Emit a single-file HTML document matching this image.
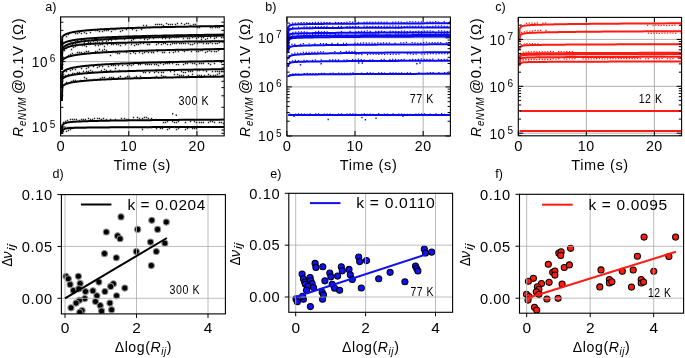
<!DOCTYPE html>
<html><head><meta charset="utf-8"><style>html,body{margin:0;padding:0;background:#fff;overflow:hidden}svg{display:block;will-change:transform}</style></head><body>
<svg width="685" height="358" viewBox="0 0 685 358" font-family='"Liberation Sans", sans-serif'>
<rect width="685" height="358" fill="#fff"/>
<clipPath id="clipa"><rect x="60.6" y="16.9" width="163.6" height="119"/></clipPath>
<path d="M128.77 16.9V135.9M196.93 16.9V135.9M60.6 127H224.2M60.6 61.6H224.2" stroke="#b0b0b0" stroke-width="1" fill="none"/>
<g clip-path="url(#clipa)">
<path d="M61.9 46 L62.3 36.9 L62.37 36.81 L62.44 36.72 L62.51 36.63 L62.58 36.54 L62.66 36.45 L62.74 36.36 L62.82 36.27 L62.91 36.18 L63 36.08 L63.09 35.99 L63.19 35.9 L63.29 35.81 L63.39 35.72 L63.5 35.63 L63.62 35.54 L63.73 35.45 L63.85 35.36 L63.98 35.27 L64.11 35.18 L64.25 35.09 L64.39 34.99 L64.53 34.9 L64.69 34.81 L64.85 34.72 L65.01 34.63 L65.18 34.54 L65.36 34.45 L65.54 34.36 L65.74 34.27 L65.93 34.18 L66.14 34.09 L66.36 34 L66.58 33.9 L66.81 33.81 L67.05 33.72 L67.3 33.63 L67.56 33.54 L67.83 33.45 L68.11 33.36 L68.4 33.27 L68.71 33.18 L69.02 33.09 L69.35 33 L69.69 32.9 L70.04 32.81 L70.4 32.72 L70.78 32.63 L71.18 32.54 L71.59 32.45 L72.01 32.36 L72.46 32.27 L72.92 32.18 L73.39 32.09 L73.89 32 L74.41 31.91 L74.94 31.81 L75.5 31.72 L76.07 31.63 L76.67 31.54 L77.3 31.45 L77.94 31.36 L78.62 31.27 L79.32 31.18 L80.04 31.09 L80.79 31 L81.58 30.91 L82.39 30.82 L83.24 30.72 L84.11 30.63 L85.03 30.54 L85.97 30.45 L86.96 30.36 L87.98 30.27 L89.04 30.18 L90.14 30.09 L91.29 30 L92.48 29.91 L93.71 29.82 L95 29.73 L96.33 29.63 L97.71 29.54 L99.15 29.45 L100.65 29.36 L102.2 29.27 L103.81 29.18 L105.49 29.09 L107.23 29 L109.04 28.91 L110.91 28.82 L112.87 28.73 L114.89 28.63 L117 28.54 L119.18 28.45 L121.45 28.36 L123.81 28.27 L126.26 28.18 L128.81 28.09 L131.45 28 L134.2 27.91 L137.05 27.82 L140.02 27.73 L143.1 27.64 L146.3 27.54 L149.62 27.45 L153.07 27.36 L156.65 27.27 L160.38 27.18 L164.25 27.09 L168.27 27 L172.44 26.91 L176.78 26.82 L181.28 26.73 L185.96 26.64 L190.82 26.55 L195.87 26.45 L201.11 26.36 L206.56 26.27 L212.22 26.18 L218.09 26.09 L224.2 26" stroke="#000" stroke-width="2" fill="none" stroke-linejoin="round"/>
<path d="M61.9 52 L62.3 44.51 L62.37 44.43 L62.44 44.35 L62.51 44.26 L62.58 44.18 L62.66 44.1 L62.74 44.02 L62.82 43.93 L62.91 43.85 L63 43.77 L63.09 43.69 L63.19 43.6 L63.29 43.52 L63.39 43.44 L63.5 43.36 L63.62 43.27 L63.73 43.19 L63.85 43.11 L63.98 43.02 L64.11 42.94 L64.25 42.86 L64.39 42.78 L64.53 42.69 L64.69 42.61 L64.85 42.53 L65.01 42.45 L65.18 42.36 L65.36 42.28 L65.54 42.2 L65.74 42.12 L65.93 42.03 L66.14 41.95 L66.36 41.87 L66.58 41.79 L66.81 41.7 L67.05 41.62 L67.3 41.54 L67.56 41.46 L67.83 41.37 L68.11 41.29 L68.4 41.21 L68.71 41.12 L69.02 41.04 L69.35 40.96 L69.69 40.88 L70.04 40.79 L70.4 40.71 L70.78 40.63 L71.18 40.55 L71.59 40.46 L72.01 40.38 L72.46 40.3 L72.92 40.22 L73.39 40.13 L73.89 40.05 L74.41 39.97 L74.94 39.89 L75.5 39.8 L76.07 39.72 L76.67 39.64 L77.3 39.56 L77.94 39.47 L78.62 39.39 L79.32 39.31 L80.04 39.23 L80.79 39.14 L81.58 39.06 L82.39 38.98 L83.24 38.89 L84.11 38.81 L85.03 38.73 L85.97 38.65 L86.96 38.56 L87.98 38.48 L89.04 38.4 L90.14 38.32 L91.29 38.23 L92.48 38.15 L93.71 38.07 L95 37.99 L96.33 37.9 L97.71 37.82 L99.15 37.74 L100.65 37.66 L102.2 37.57 L103.81 37.49 L105.49 37.41 L107.23 37.33 L109.04 37.24 L110.91 37.16 L112.87 37.08 L114.89 37 L117 36.91 L119.18 36.83 L121.45 36.75 L123.81 36.66 L126.26 36.58 L128.81 36.5 L131.45 36.42 L134.2 36.33 L137.05 36.25 L140.02 36.17 L143.1 36.09 L146.3 36 L149.62 35.92 L153.07 35.84 L156.65 35.76 L160.38 35.67 L164.25 35.59 L168.27 35.51 L172.44 35.43 L176.78 35.34 L181.28 35.26 L185.96 35.18 L190.82 35.1 L195.87 35.01 L201.11 34.93 L206.56 34.85 L212.22 34.77 L218.09 34.68 L224.2 34.6" stroke="#000" stroke-width="2" fill="none" stroke-linejoin="round"/>
<path d="M61.9 56 L62.3 48.68 L62.37 48.57 L62.44 48.46 L62.51 48.36 L62.58 48.25 L62.66 48.14 L62.74 48.03 L62.82 47.92 L62.91 47.81 L63 47.7 L63.09 47.59 L63.19 47.48 L63.29 47.37 L63.39 47.27 L63.5 47.16 L63.62 47.05 L63.73 46.94 L63.85 46.83 L63.98 46.72 L64.11 46.61 L64.25 46.5 L64.39 46.39 L64.53 46.28 L64.69 46.18 L64.85 46.07 L65.01 45.96 L65.18 45.85 L65.36 45.74 L65.54 45.63 L65.74 45.52 L65.93 45.41 L66.14 45.3 L66.36 45.19 L66.58 45.09 L66.81 44.98 L67.05 44.87 L67.3 44.76 L67.56 44.65 L67.83 44.54 L68.11 44.43 L68.4 44.32 L68.71 44.21 L69.02 44.1 L69.35 43.99 L69.69 43.89 L70.04 43.78 L70.4 43.67 L70.78 43.56 L71.18 43.45 L71.59 43.34 L72.01 43.23 L72.46 43.12 L72.92 43.01 L73.39 42.9 L73.89 42.8 L74.41 42.69 L74.94 42.58 L75.5 42.47 L76.07 42.36 L76.67 42.25 L77.3 42.14 L77.94 42.03 L78.62 41.92 L79.32 41.81 L80.04 41.71 L80.79 41.6 L81.58 41.49 L82.39 41.38 L83.24 41.27 L84.11 41.16 L85.03 41.05 L85.97 40.94 L86.96 40.83 L87.98 40.72 L89.04 40.62 L90.14 40.51 L91.29 40.4 L92.48 40.29 L93.71 40.18 L95 40.07 L96.33 39.96 L97.71 39.85 L99.15 39.74 L100.65 39.63 L102.2 39.52 L103.81 39.42 L105.49 39.31 L107.23 39.2 L109.04 39.09 L110.91 38.98 L112.87 38.87 L114.89 38.76 L117 38.65 L119.18 38.54 L121.45 38.43 L123.81 38.33 L126.26 38.22 L128.81 38.11 L131.45 38 L134.2 37.89 L137.05 37.78 L140.02 37.67 L143.1 37.56 L146.3 37.45 L149.62 37.34 L153.07 37.24 L156.65 37.13 L160.38 37.02 L164.25 36.91 L168.27 36.8 L172.44 36.69 L176.78 36.58 L181.28 36.47 L185.96 36.36 L190.82 36.25 L195.87 36.15 L201.11 36.04 L206.56 35.93 L212.22 35.82 L218.09 35.71 L224.2 35.6" stroke="#000" stroke-width="2" fill="none" stroke-linejoin="round"/>
<path d="M61.9 62 L62.3 50.67 L62.37 50.59 L62.44 50.51 L62.51 50.42 L62.58 50.34 L62.66 50.26 L62.74 50.17 L62.82 50.08 L62.91 50 L63 49.91 L63.09 49.82 L63.19 49.73 L63.29 49.64 L63.39 49.55 L63.5 49.46 L63.62 49.37 L63.73 49.28 L63.85 49.19 L63.98 49.09 L64.11 49 L64.25 48.9 L64.39 48.81 L64.53 48.71 L64.69 48.62 L64.85 48.52 L65.01 48.42 L65.18 48.32 L65.36 48.22 L65.54 48.12 L65.74 48.02 L65.93 47.92 L66.14 47.82 L66.36 47.72 L66.58 47.62 L66.81 47.52 L67.05 47.42 L67.3 47.32 L67.56 47.22 L67.83 47.11 L68.11 47.01 L68.4 46.91 L68.71 46.81 L69.02 46.71 L69.35 46.61 L69.69 46.51 L70.04 46.41 L70.4 46.31 L70.78 46.21 L71.18 46.12 L71.59 46.02 L72.01 45.92 L72.46 45.83 L72.92 45.74 L73.39 45.64 L73.89 45.55 L74.41 45.46 L74.94 45.37 L75.5 45.28 L76.07 45.2 L76.67 45.11 L77.3 45.03 L77.94 44.94 L78.62 44.86 L79.32 44.78 L80.04 44.7 L80.79 44.63 L81.58 44.55 L82.39 44.47 L83.24 44.4 L84.11 44.33 L85.03 44.26 L85.97 44.19 L86.96 44.12 L87.98 44.05 L89.04 43.98 L90.14 43.92 L91.29 43.85 L92.48 43.79 L93.71 43.72 L95 43.66 L96.33 43.59 L97.71 43.53 L99.15 43.47 L100.65 43.41 L102.2 43.35 L103.81 43.29 L105.49 43.23 L107.23 43.17 L109.04 43.11 L110.91 43.05 L112.87 42.99 L114.89 42.93 L117 42.87 L119.18 42.81 L121.45 42.75 L123.81 42.69 L126.26 42.63 L128.81 42.57 L131.45 42.51 L134.2 42.45 L137.05 42.39 L140.02 42.33 L143.1 42.27 L146.3 42.21 L149.62 42.15 L153.07 42.09 L156.65 42.03 L160.38 41.97 L164.25 41.91 L168.27 41.85 L172.44 41.79 L176.78 41.74 L181.28 41.68 L185.96 41.62 L190.82 41.56 L195.87 41.5 L201.11 41.44 L206.56 41.38 L212.22 41.32 L218.09 41.26 L224.2 41.2" stroke="#000" stroke-width="2" fill="none" stroke-linejoin="round"/>
<path d="M61.9 70 L62.3 60.5 L62.37 60.4 L62.44 60.31 L62.51 60.21 L62.58 60.11 L62.66 60.02 L62.74 59.92 L62.82 59.83 L62.91 59.73 L63 59.63 L63.09 59.54 L63.19 59.44 L63.29 59.35 L63.39 59.25 L63.5 59.16 L63.62 59.06 L63.73 58.96 L63.85 58.87 L63.98 58.77 L64.11 58.68 L64.25 58.58 L64.39 58.49 L64.53 58.39 L64.69 58.29 L64.85 58.2 L65.01 58.1 L65.18 58.01 L65.36 57.91 L65.54 57.81 L65.74 57.72 L65.93 57.62 L66.14 57.53 L66.36 57.43 L66.58 57.34 L66.81 57.24 L67.05 57.14 L67.3 57.05 L67.56 56.95 L67.83 56.86 L68.11 56.76 L68.4 56.66 L68.71 56.57 L69.02 56.47 L69.35 56.38 L69.69 56.28 L70.04 56.19 L70.4 56.09 L70.78 55.99 L71.18 55.9 L71.59 55.8 L72.01 55.71 L72.46 55.61 L72.92 55.52 L73.39 55.42 L73.89 55.32 L74.41 55.23 L74.94 55.13 L75.5 55.04 L76.07 54.94 L76.67 54.84 L77.3 54.75 L77.94 54.65 L78.62 54.56 L79.32 54.46 L80.04 54.37 L80.79 54.27 L81.58 54.17 L82.39 54.08 L83.24 53.98 L84.11 53.89 L85.03 53.79 L85.97 53.69 L86.96 53.6 L87.98 53.5 L89.04 53.41 L90.14 53.31 L91.29 53.22 L92.48 53.12 L93.71 53.02 L95 52.93 L96.33 52.83 L97.71 52.74 L99.15 52.64 L100.65 52.54 L102.2 52.45 L103.81 52.35 L105.49 52.26 L107.23 52.16 L109.04 52.07 L110.91 51.97 L112.87 51.87 L114.89 51.78 L117 51.68 L119.18 51.59 L121.45 51.49 L123.81 51.4 L126.26 51.3 L128.81 51.2 L131.45 51.11 L134.2 51.01 L137.05 50.92 L140.02 50.82 L143.1 50.72 L146.3 50.63 L149.62 50.53 L153.07 50.44 L156.65 50.34 L160.38 50.25 L164.25 50.15 L168.27 50.05 L172.44 49.96 L176.78 49.86 L181.28 49.77 L185.96 49.67 L190.82 49.57 L195.87 49.48 L201.11 49.38 L206.56 49.29 L212.22 49.19 L218.09 49.1 L224.2 49" stroke="#000" stroke-width="2" fill="none" stroke-linejoin="round"/>
<path d="M61.9 80 L62.3 72.89 L62.37 72.79 L62.44 72.7 L62.51 72.6 L62.58 72.5 L62.66 72.4 L62.74 72.3 L62.82 72.2 L62.91 72.1 L63 72 L63.09 71.9 L63.19 71.8 L63.29 71.7 L63.39 71.61 L63.5 71.51 L63.62 71.41 L63.73 71.31 L63.85 71.21 L63.98 71.11 L64.11 71.01 L64.25 70.91 L64.39 70.81 L64.53 70.71 L64.69 70.61 L64.85 70.51 L65.01 70.42 L65.18 70.32 L65.36 70.22 L65.54 70.12 L65.74 70.02 L65.93 69.92 L66.14 69.82 L66.36 69.72 L66.58 69.62 L66.81 69.52 L67.05 69.42 L67.3 69.33 L67.56 69.23 L67.83 69.13 L68.11 69.03 L68.4 68.93 L68.71 68.83 L69.02 68.73 L69.35 68.63 L69.69 68.53 L70.04 68.43 L70.4 68.33 L70.78 68.24 L71.18 68.14 L71.59 68.04 L72.01 67.94 L72.46 67.84 L72.92 67.74 L73.39 67.64 L73.89 67.54 L74.41 67.44 L74.94 67.34 L75.5 67.24 L76.07 67.15 L76.67 67.05 L77.3 66.95 L77.94 66.85 L78.62 66.75 L79.32 66.65 L80.04 66.55 L80.79 66.45 L81.58 66.35 L82.39 66.25 L83.24 66.15 L84.11 66.05 L85.03 65.96 L85.97 65.86 L86.96 65.76 L87.98 65.66 L89.04 65.56 L90.14 65.46 L91.29 65.36 L92.48 65.26 L93.71 65.16 L95 65.06 L96.33 64.96 L97.71 64.87 L99.15 64.77 L100.65 64.67 L102.2 64.57 L103.81 64.47 L105.49 64.37 L107.23 64.27 L109.04 64.17 L110.91 64.07 L112.87 63.97 L114.89 63.87 L117 63.78 L119.18 63.68 L121.45 63.58 L123.81 63.48 L126.26 63.38 L128.81 63.28 L131.45 63.18 L134.2 63.08 L137.05 62.98 L140.02 62.88 L143.1 62.78 L146.3 62.68 L149.62 62.59 L153.07 62.49 L156.65 62.39 L160.38 62.29 L164.25 62.19 L168.27 62.09 L172.44 61.99 L176.78 61.89 L181.28 61.79 L185.96 61.69 L190.82 61.59 L195.87 61.5 L201.11 61.4 L206.56 61.3 L212.22 61.2 L218.09 61.1 L224.2 61" stroke="#000" stroke-width="2" fill="none" stroke-linejoin="round"/>
<path d="M61.9 88 L62.3 79.11 L62.37 79.03 L62.44 78.95 L62.51 78.86 L62.58 78.78 L62.66 78.7 L62.74 78.62 L62.82 78.53 L62.91 78.45 L63 78.37 L63.09 78.29 L63.19 78.2 L63.29 78.12 L63.39 78.04 L63.5 77.96 L63.62 77.87 L63.73 77.79 L63.85 77.71 L63.98 77.62 L64.11 77.54 L64.25 77.46 L64.39 77.38 L64.53 77.29 L64.69 77.21 L64.85 77.13 L65.01 77.05 L65.18 76.96 L65.36 76.88 L65.54 76.8 L65.74 76.72 L65.93 76.63 L66.14 76.55 L66.36 76.47 L66.58 76.39 L66.81 76.3 L67.05 76.22 L67.3 76.14 L67.56 76.06 L67.83 75.97 L68.11 75.89 L68.4 75.81 L68.71 75.72 L69.02 75.64 L69.35 75.56 L69.69 75.48 L70.04 75.39 L70.4 75.31 L70.78 75.23 L71.18 75.15 L71.59 75.06 L72.01 74.98 L72.46 74.9 L72.92 74.82 L73.39 74.73 L73.89 74.65 L74.41 74.57 L74.94 74.49 L75.5 74.4 L76.07 74.32 L76.67 74.24 L77.3 74.16 L77.94 74.07 L78.62 73.99 L79.32 73.91 L80.04 73.83 L80.79 73.74 L81.58 73.66 L82.39 73.58 L83.24 73.49 L84.11 73.41 L85.03 73.33 L85.97 73.25 L86.96 73.16 L87.98 73.08 L89.04 73 L90.14 72.92 L91.29 72.83 L92.48 72.75 L93.71 72.67 L95 72.59 L96.33 72.5 L97.71 72.42 L99.15 72.34 L100.65 72.26 L102.2 72.17 L103.81 72.09 L105.49 72.01 L107.23 71.93 L109.04 71.84 L110.91 71.76 L112.87 71.68 L114.89 71.6 L117 71.51 L119.18 71.43 L121.45 71.35 L123.81 71.26 L126.26 71.18 L128.81 71.1 L131.45 71.02 L134.2 70.93 L137.05 70.85 L140.02 70.77 L143.1 70.69 L146.3 70.6 L149.62 70.52 L153.07 70.44 L156.65 70.36 L160.38 70.27 L164.25 70.19 L168.27 70.11 L172.44 70.03 L176.78 69.94 L181.28 69.86 L185.96 69.78 L190.82 69.7 L195.87 69.61 L201.11 69.53 L206.56 69.45 L212.22 69.37 L218.09 69.28 L224.2 69.2" stroke="#000" stroke-width="2" fill="none" stroke-linejoin="round"/>
<path d="M61.9 101 L62.3 86.51 L62.37 86.43 L62.44 86.35 L62.51 86.26 L62.58 86.18 L62.66 86.1 L62.74 86.02 L62.82 85.93 L62.91 85.85 L63 85.77 L63.09 85.69 L63.19 85.6 L63.29 85.52 L63.39 85.44 L63.5 85.36 L63.62 85.27 L63.73 85.19 L63.85 85.11 L63.98 85.02 L64.11 84.94 L64.25 84.86 L64.39 84.78 L64.53 84.69 L64.69 84.61 L64.85 84.53 L65.01 84.45 L65.18 84.36 L65.36 84.28 L65.54 84.2 L65.74 84.12 L65.93 84.03 L66.14 83.95 L66.36 83.87 L66.58 83.79 L66.81 83.7 L67.05 83.62 L67.3 83.54 L67.56 83.46 L67.83 83.37 L68.11 83.29 L68.4 83.21 L68.71 83.12 L69.02 83.04 L69.35 82.96 L69.69 82.88 L70.04 82.79 L70.4 82.71 L70.78 82.63 L71.18 82.55 L71.59 82.46 L72.01 82.38 L72.46 82.3 L72.92 82.22 L73.39 82.13 L73.89 82.05 L74.41 81.97 L74.94 81.89 L75.5 81.8 L76.07 81.72 L76.67 81.64 L77.3 81.56 L77.94 81.47 L78.62 81.39 L79.32 81.31 L80.04 81.23 L80.79 81.14 L81.58 81.06 L82.39 80.98 L83.24 80.89 L84.11 80.81 L85.03 80.73 L85.97 80.65 L86.96 80.56 L87.98 80.48 L89.04 80.4 L90.14 80.32 L91.29 80.23 L92.48 80.15 L93.71 80.07 L95 79.99 L96.33 79.9 L97.71 79.82 L99.15 79.74 L100.65 79.66 L102.2 79.57 L103.81 79.49 L105.49 79.41 L107.23 79.33 L109.04 79.24 L110.91 79.16 L112.87 79.08 L114.89 79 L117 78.91 L119.18 78.83 L121.45 78.75 L123.81 78.66 L126.26 78.58 L128.81 78.5 L131.45 78.42 L134.2 78.33 L137.05 78.25 L140.02 78.17 L143.1 78.09 L146.3 78 L149.62 77.92 L153.07 77.84 L156.65 77.76 L160.38 77.67 L164.25 77.59 L168.27 77.51 L172.44 77.43 L176.78 77.34 L181.28 77.26 L185.96 77.18 L190.82 77.1 L195.87 77.01 L201.11 76.93 L206.56 76.85 L212.22 76.77 L218.09 76.68 L224.2 76.6" stroke="#000" stroke-width="2" fill="none" stroke-linejoin="round"/>
<path d="M61.9 131 L62.3 125.3 L62.37 125.21 L62.44 125.13 L62.51 125.04 L62.58 124.95 L62.66 124.86 L62.74 124.77 L62.82 124.68 L62.91 124.59 L63 124.5 L63.09 124.42 L63.19 124.33 L63.29 124.24 L63.39 124.16 L63.5 124.07 L63.62 123.98 L63.73 123.9 L63.85 123.82 L63.98 123.74 L64.11 123.66 L64.25 123.58 L64.39 123.5 L64.53 123.42 L64.69 123.35 L64.85 123.27 L65.01 123.2 L65.18 123.13 L65.36 123.06 L65.54 123 L65.74 122.93 L65.93 122.87 L66.14 122.81 L66.36 122.75 L66.58 122.69 L66.81 122.63 L67.05 122.58 L67.3 122.53 L67.56 122.48 L67.83 122.43 L68.11 122.38 L68.4 122.33 L68.71 122.29 L69.02 122.24 L69.35 122.2 L69.69 122.16 L70.04 122.12 L70.4 122.08 L70.78 122.04 L71.18 122 L71.59 121.96 L72.01 121.93 L72.46 121.89 L72.92 121.86 L73.39 121.82 L73.89 121.79 L74.41 121.75 L74.94 121.72 L75.5 121.68 L76.07 121.65 L76.67 121.62 L77.3 121.58 L77.94 121.55 L78.62 121.52 L79.32 121.48 L80.04 121.45 L80.79 121.42 L81.58 121.38 L82.39 121.35 L83.24 121.32 L84.11 121.28 L85.03 121.25 L85.97 121.22 L86.96 121.19 L87.98 121.15 L89.04 121.12 L90.14 121.09 L91.29 121.05 L92.48 121.02 L93.71 120.99 L95 120.95 L96.33 120.92 L97.71 120.89 L99.15 120.86 L100.65 120.82 L102.2 120.79 L103.81 120.76 L105.49 120.72 L107.23 120.69 L109.04 120.66 L110.91 120.62 L112.87 120.59 L114.89 120.56 L117 120.53 L119.18 120.49 L121.45 120.46 L123.81 120.43 L126.26 120.39 L128.81 120.36 L131.45 120.33 L134.2 120.29 L137.05 120.26 L140.02 120.23 L143.1 120.19 L146.3 120.16 L149.62 120.13 L153.07 120.1 L156.65 120.06 L160.38 120.03 L164.25 120 L168.27 119.96 L172.44 119.93 L176.78 119.9 L181.28 119.86 L185.96 119.83 L190.82 119.8 L195.87 119.77 L201.11 119.73 L206.56 119.7 L212.22 119.67 L218.09 119.63 L224.2 119.6" stroke="#000" stroke-width="2" fill="none" stroke-linejoin="round"/>
<path d="M61.9 134 L62.3 130.42 L62.37 130.35 L62.44 130.28 L62.51 130.21 L62.58 130.14 L62.66 130.07 L62.74 130 L62.82 129.93 L62.91 129.86 L63 129.79 L63.09 129.72 L63.19 129.65 L63.29 129.58 L63.39 129.51 L63.5 129.44 L63.62 129.38 L63.73 129.31 L63.85 129.25 L63.98 129.18 L64.11 129.12 L64.25 129.06 L64.39 129 L64.53 128.94 L64.69 128.88 L64.85 128.83 L65.01 128.78 L65.18 128.72 L65.36 128.67 L65.54 128.62 L65.74 128.58 L65.93 128.53 L66.14 128.49 L66.36 128.45 L66.58 128.41 L66.81 128.37 L67.05 128.33 L67.3 128.3 L67.56 128.27 L67.83 128.24 L68.11 128.21 L68.4 128.18 L68.71 128.15 L69.02 128.12 L69.35 128.1 L69.69 128.08 L70.04 128.05 L70.4 128.03 L70.78 128.01 L71.18 127.99 L71.59 127.97 L72.01 127.96 L72.46 127.94 L72.92 127.92 L73.39 127.9 L73.89 127.89 L74.41 127.87 L74.94 127.86 L75.5 127.84 L76.07 127.82 L76.67 127.81 L77.3 127.79 L77.94 127.78 L78.62 127.76 L79.32 127.75 L80.04 127.73 L80.79 127.72 L81.58 127.7 L82.39 127.69 L83.24 127.67 L84.11 127.66 L85.03 127.64 L85.97 127.63 L86.96 127.61 L87.98 127.6 L89.04 127.58 L90.14 127.57 L91.29 127.55 L92.48 127.54 L93.71 127.52 L95 127.51 L96.33 127.49 L97.71 127.48 L99.15 127.46 L100.65 127.45 L102.2 127.44 L103.81 127.42 L105.49 127.41 L107.23 127.39 L109.04 127.38 L110.91 127.36 L112.87 127.35 L114.89 127.33 L117 127.32 L119.18 127.3 L121.45 127.29 L123.81 127.27 L126.26 127.26 L128.81 127.24 L131.45 127.23 L134.2 127.21 L137.05 127.2 L140.02 127.18 L143.1 127.17 L146.3 127.15 L149.62 127.14 L153.07 127.12 L156.65 127.11 L160.38 127.09 L164.25 127.08 L168.27 127.06 L172.44 127.05 L176.78 127.03 L181.28 127.02 L185.96 127 L190.82 126.99 L195.87 126.97 L201.11 126.96 L206.56 126.94 L212.22 126.93 L218.09 126.91 L224.2 126.9" stroke="#000" stroke-width="2" fill="none" stroke-linejoin="round"/>
<path d="M65.8 35.8h1.4v1.4h-1.4zM67.8 33.8h1.4v1.4h-1.4zM74.8 32.8h1.4v1.4h-1.4zM76.8 32.8h1.4v1.4h-1.4zM78.8 31.8h1.4v1.4h-1.4zM80.8 32.8h1.4v1.4h-1.4zM83.8 31.8h1.4v1.4h-1.4zM85.8 32.8h1.4v1.4h-1.4zM89.8 31.8h1.4v1.4h-1.4zM94.8 29.8h1.4v1.4h-1.4zM96.8 29.8h1.4v1.4h-1.4zM98.8 30.8h1.4v1.4h-1.4zM101.8 30.8h1.4v1.4h-1.4zM103.8 29.8h1.4v1.4h-1.4zM105.8 29.8h1.4v1.4h-1.4zM107.8 29.8h1.4v1.4h-1.4zM110.8 30.8h1.4v1.4h-1.4zM112.8 28.8h1.4v1.4h-1.4zM114.8 28.8h1.4v1.4h-1.4zM119.8 30.8h1.4v1.4h-1.4zM121.8 29.8h1.4v1.4h-1.4zM125.8 28.8h1.4v1.4h-1.4zM128.8 27.8h1.4v1.4h-1.4zM131.8 28.8h1.4v1.4h-1.4zM133.8 27.8h1.4v1.4h-1.4zM135.8 29.8h1.4v1.4h-1.4zM137.8 26.8h1.4v1.4h-1.4zM140.8 28.8h1.4v1.4h-1.4zM142.8 24.8h1.4v1.4h-1.4zM145.8 24.8h1.4v1.4h-1.4zM154.8 23.8h1.4v1.4h-1.4zM156.8 23.8h1.4v1.4h-1.4zM158.8 23.8h1.4v1.4h-1.4zM160.8 23.8h1.4v1.4h-1.4zM162.8 24.8h1.4v1.4h-1.4zM165.8 22.8h1.4v1.4h-1.4zM167.8 23.8h1.4v1.4h-1.4zM169.8 23.8h1.4v1.4h-1.4zM171.8 23.8h1.4v1.4h-1.4zM174.8 23.8h1.4v1.4h-1.4zM176.8 22.8h1.4v1.4h-1.4zM180.8 22.8h1.4v1.4h-1.4zM183.8 23.8h1.4v1.4h-1.4zM185.8 22.8h1.4v1.4h-1.4zM187.8 22.8h1.4v1.4h-1.4zM189.8 24.8h1.4v1.4h-1.4zM192.8 23.8h1.4v1.4h-1.4zM194.8 23.8h1.4v1.4h-1.4zM196.8 26.8h1.4v1.4h-1.4zM198.8 26.8h1.4v1.4h-1.4zM209.8 26.8h1.4v1.4h-1.4zM211.8 26.8h1.4v1.4h-1.4zM214.8 26.8h1.4v1.4h-1.4zM216.8 26.8h1.4v1.4h-1.4zM218.8 26.8h1.4v1.4h-1.4zM69.8 40.8h1.4v1.4h-1.4zM71.8 41.8h1.4v1.4h-1.4zM74.8 40.8h1.4v1.4h-1.4zM76.8 39.8h1.4v1.4h-1.4zM80.8 39.8h1.4v1.4h-1.4zM83.8 38.8h1.4v1.4h-1.4zM85.8 39.8h1.4v1.4h-1.4zM87.8 40.8h1.4v1.4h-1.4zM89.8 39.8h1.4v1.4h-1.4zM92.8 37.8h1.4v1.4h-1.4zM98.8 38.8h1.4v1.4h-1.4zM101.8 38.8h1.4v1.4h-1.4zM103.8 36.8h1.4v1.4h-1.4zM105.8 38.8h1.4v1.4h-1.4zM107.8 37.8h1.4v1.4h-1.4zM112.8 37.8h1.4v1.4h-1.4zM114.8 38.8h1.4v1.4h-1.4zM116.8 36.8h1.4v1.4h-1.4zM121.8 36.8h1.4v1.4h-1.4zM123.8 36.8h1.4v1.4h-1.4zM125.8 36.8h1.4v1.4h-1.4zM128.8 37.8h1.4v1.4h-1.4zM130.8 37.8h1.4v1.4h-1.4zM132.8 35.8h1.4v1.4h-1.4zM139.8 37.8h1.4v1.4h-1.4zM143.8 37.8h1.4v1.4h-1.4zM146.8 34.8h1.4v1.4h-1.4zM150.8 36.8h1.4v1.4h-1.4zM152.8 35.8h1.4v1.4h-1.4zM155.8 35.8h1.4v1.4h-1.4zM157.8 36.8h1.4v1.4h-1.4zM159.8 35.8h1.4v1.4h-1.4zM161.8 36.8h1.4v1.4h-1.4zM164.8 36.8h1.4v1.4h-1.4zM166.8 35.8h1.4v1.4h-1.4zM168.8 36.8h1.4v1.4h-1.4zM170.8 35.8h1.4v1.4h-1.4zM173.8 36.8h1.4v1.4h-1.4zM175.8 36.8h1.4v1.4h-1.4zM177.8 35.8h1.4v1.4h-1.4zM184.8 35.8h1.4v1.4h-1.4zM186.8 35.8h1.4v1.4h-1.4zM188.8 35.8h1.4v1.4h-1.4zM191.8 35.8h1.4v1.4h-1.4zM193.8 35.8h1.4v1.4h-1.4zM195.8 35.8h1.4v1.4h-1.4zM197.8 35.8h1.4v1.4h-1.4zM200.8 36.8h1.4v1.4h-1.4zM202.8 35.8h1.4v1.4h-1.4zM204.8 34.8h1.4v1.4h-1.4zM206.8 34.8h1.4v1.4h-1.4zM209.8 35.8h1.4v1.4h-1.4zM211.8 34.8h1.4v1.4h-1.4zM213.8 35.8h1.4v1.4h-1.4zM215.8 36.8h1.4v1.4h-1.4zM218.8 34.8h1.4v1.4h-1.4zM65.8 46.8h1.4v1.4h-1.4zM69.8 42.8h1.4v1.4h-1.4zM71.8 43.8h1.4v1.4h-1.4zM74.8 42.8h1.4v1.4h-1.4zM76.8 43.8h1.4v1.4h-1.4zM78.8 43.8h1.4v1.4h-1.4zM83.8 41.8h1.4v1.4h-1.4zM87.8 41.8h1.4v1.4h-1.4zM89.8 41.8h1.4v1.4h-1.4zM92.8 40.8h1.4v1.4h-1.4zM94.8 41.8h1.4v1.4h-1.4zM96.8 40.8h1.4v1.4h-1.4zM98.8 41.8h1.4v1.4h-1.4zM101.8 40.8h1.4v1.4h-1.4zM105.8 40.8h1.4v1.4h-1.4zM107.8 39.8h1.4v1.4h-1.4zM110.8 39.8h1.4v1.4h-1.4zM114.8 38.8h1.4v1.4h-1.4zM123.8 38.8h1.4v1.4h-1.4zM128.8 37.8h1.4v1.4h-1.4zM130.8 39.8h1.4v1.4h-1.4zM132.8 38.8h1.4v1.4h-1.4zM134.8 37.8h1.4v1.4h-1.4zM143.8 38.8h1.4v1.4h-1.4zM146.8 38.8h1.4v1.4h-1.4zM148.8 37.8h1.4v1.4h-1.4zM152.8 37.8h1.4v1.4h-1.4zM159.8 36.8h1.4v1.4h-1.4zM161.8 37.8h1.4v1.4h-1.4zM164.8 37.8h1.4v1.4h-1.4zM166.8 36.8h1.4v1.4h-1.4zM168.8 37.8h1.4v1.4h-1.4zM170.8 36.8h1.4v1.4h-1.4zM173.8 35.8h1.4v1.4h-1.4zM175.8 36.8h1.4v1.4h-1.4zM177.8 36.8h1.4v1.4h-1.4zM182.8 37.8h1.4v1.4h-1.4zM186.8 37.8h1.4v1.4h-1.4zM188.8 37.8h1.4v1.4h-1.4zM191.8 36.8h1.4v1.4h-1.4zM195.8 37.8h1.4v1.4h-1.4zM197.8 36.8h1.4v1.4h-1.4zM200.8 38.8h1.4v1.4h-1.4zM202.8 36.8h1.4v1.4h-1.4zM204.8 38.8h1.4v1.4h-1.4zM206.8 37.8h1.4v1.4h-1.4zM209.8 36.8h1.4v1.4h-1.4zM213.8 37.8h1.4v1.4h-1.4zM220.8 36.8h1.4v1.4h-1.4zM222.8 36.8h1.4v1.4h-1.4zM63.8 49.8h1.4v1.4h-1.4zM65.8 47.8h1.4v1.4h-1.4zM70.8 48.8h1.4v1.4h-1.4zM72.8 46.8h1.4v1.4h-1.4zM74.8 45.8h1.4v1.4h-1.4zM76.8 44.8h1.4v1.4h-1.4zM81.8 44.8h1.4v1.4h-1.4zM83.8 44.8h1.4v1.4h-1.4zM85.8 45.8h1.4v1.4h-1.4zM88.8 43.8h1.4v1.4h-1.4zM94.8 44.8h1.4v1.4h-1.4zM97.8 44.8h1.4v1.4h-1.4zM99.8 43.8h1.4v1.4h-1.4zM101.8 43.8h1.4v1.4h-1.4zM103.8 45.8h1.4v1.4h-1.4zM106.8 43.8h1.4v1.4h-1.4zM110.8 43.8h1.4v1.4h-1.4zM112.8 43.8h1.4v1.4h-1.4zM115.8 43.8h1.4v1.4h-1.4zM117.8 43.8h1.4v1.4h-1.4zM119.8 44.8h1.4v1.4h-1.4zM121.8 42.8h1.4v1.4h-1.4zM124.8 43.8h1.4v1.4h-1.4zM130.8 43.8h1.4v1.4h-1.4zM133.8 44.8h1.4v1.4h-1.4zM135.8 43.8h1.4v1.4h-1.4zM137.8 43.8h1.4v1.4h-1.4zM139.8 42.8h1.4v1.4h-1.4zM142.8 42.8h1.4v1.4h-1.4zM146.8 43.8h1.4v1.4h-1.4zM148.8 43.8h1.4v1.4h-1.4zM153.8 41.8h1.4v1.4h-1.4zM155.8 43.8h1.4v1.4h-1.4zM157.8 42.8h1.4v1.4h-1.4zM160.8 43.8h1.4v1.4h-1.4zM162.8 42.8h1.4v1.4h-1.4zM164.8 42.8h1.4v1.4h-1.4zM166.8 43.8h1.4v1.4h-1.4zM169.8 43.8h1.4v1.4h-1.4zM171.8 42.8h1.4v1.4h-1.4zM173.8 42.8h1.4v1.4h-1.4zM175.8 42.8h1.4v1.4h-1.4zM178.8 42.8h1.4v1.4h-1.4zM180.8 42.8h1.4v1.4h-1.4zM182.8 42.8h1.4v1.4h-1.4zM184.8 42.8h1.4v1.4h-1.4zM187.8 42.8h1.4v1.4h-1.4zM189.8 43.8h1.4v1.4h-1.4zM191.8 43.8h1.4v1.4h-1.4zM193.8 42.8h1.4v1.4h-1.4zM196.8 42.8h1.4v1.4h-1.4zM198.8 41.8h1.4v1.4h-1.4zM200.8 41.8h1.4v1.4h-1.4zM202.8 42.8h1.4v1.4h-1.4zM205.8 42.8h1.4v1.4h-1.4zM207.8 42.8h1.4v1.4h-1.4zM209.8 41.8h1.4v1.4h-1.4zM211.8 42.8h1.4v1.4h-1.4zM214.8 42.8h1.4v1.4h-1.4zM216.8 42.8h1.4v1.4h-1.4zM218.8 41.8h1.4v1.4h-1.4zM223.8 41.8h1.4v1.4h-1.4zM62.8 56.8h1.4v1.4h-1.4zM67.8 54.8h1.4v1.4h-1.4zM69.8 53.8h1.4v1.4h-1.4zM71.8 52.8h1.4v1.4h-1.4zM74.8 53.8h1.4v1.4h-1.4zM76.8 51.8h1.4v1.4h-1.4zM78.8 51.8h1.4v1.4h-1.4zM80.8 51.8h1.4v1.4h-1.4zM83.8 51.8h1.4v1.4h-1.4zM85.8 50.8h1.4v1.4h-1.4zM87.8 50.8h1.4v1.4h-1.4zM94.8 50.8h1.4v1.4h-1.4zM96.8 50.8h1.4v1.4h-1.4zM98.8 48.8h1.4v1.4h-1.4zM101.8 49.8h1.4v1.4h-1.4zM103.8 48.8h1.4v1.4h-1.4zM105.8 49.8h1.4v1.4h-1.4zM109.8 54.8h1.4v1.4h-1.4zM111.8 51.8h1.4v1.4h-1.4zM114.8 51.8h1.4v1.4h-1.4zM116.8 52.8h1.4v1.4h-1.4zM118.8 52.8h1.4v1.4h-1.4zM125.8 51.8h1.4v1.4h-1.4zM127.8 50.8h1.4v1.4h-1.4zM129.8 52.8h1.4v1.4h-1.4zM132.8 51.8h1.4v1.4h-1.4zM134.8 52.8h1.4v1.4h-1.4zM138.8 51.8h1.4v1.4h-1.4zM141.8 52.8h1.4v1.4h-1.4zM143.8 51.8h1.4v1.4h-1.4zM145.8 50.8h1.4v1.4h-1.4zM147.8 51.8h1.4v1.4h-1.4zM150.8 51.8h1.4v1.4h-1.4zM152.8 51.8h1.4v1.4h-1.4zM156.8 50.8h1.4v1.4h-1.4zM161.8 51.8h1.4v1.4h-1.4zM163.8 51.8h1.4v1.4h-1.4zM168.8 51.8h1.4v1.4h-1.4zM170.8 49.8h1.4v1.4h-1.4zM172.8 51.8h1.4v1.4h-1.4zM174.8 50.8h1.4v1.4h-1.4zM177.8 50.8h1.4v1.4h-1.4zM181.8 49.8h1.4v1.4h-1.4zM183.8 50.8h1.4v1.4h-1.4zM186.8 49.8h1.4v1.4h-1.4zM190.8 50.8h1.4v1.4h-1.4zM195.8 50.8h1.4v1.4h-1.4zM197.8 50.8h1.4v1.4h-1.4zM199.8 49.8h1.4v1.4h-1.4zM201.8 49.8h1.4v1.4h-1.4zM204.8 51.8h1.4v1.4h-1.4zM206.8 50.8h1.4v1.4h-1.4zM208.8 49.8h1.4v1.4h-1.4zM210.8 50.8h1.4v1.4h-1.4zM213.8 50.8h1.4v1.4h-1.4zM215.8 50.8h1.4v1.4h-1.4zM217.8 49.8h1.4v1.4h-1.4zM62.8 73.8h1.4v1.4h-1.4zM65.8 70.8h1.4v1.4h-1.4zM69.8 69.8h1.4v1.4h-1.4zM71.8 68.8h1.4v1.4h-1.4zM74.8 68.8h1.4v1.4h-1.4zM80.8 67.8h1.4v1.4h-1.4zM85.8 67.8h1.4v1.4h-1.4zM87.8 66.8h1.4v1.4h-1.4zM92.8 65.8h1.4v1.4h-1.4zM96.8 66.8h1.4v1.4h-1.4zM98.8 65.8h1.4v1.4h-1.4zM101.8 65.8h1.4v1.4h-1.4zM107.8 65.8h1.4v1.4h-1.4zM110.8 64.8h1.4v1.4h-1.4zM112.8 64.8h1.4v1.4h-1.4zM114.8 64.8h1.4v1.4h-1.4zM117.8 64.8h1.4v1.4h-1.4zM121.8 64.8h1.4v1.4h-1.4zM123.8 62.8h1.4v1.4h-1.4zM126.8 64.8h1.4v1.4h-1.4zM128.8 63.8h1.4v1.4h-1.4zM130.8 64.8h1.4v1.4h-1.4zM132.8 63.8h1.4v1.4h-1.4zM137.8 63.8h1.4v1.4h-1.4zM139.8 63.8h1.4v1.4h-1.4zM141.8 62.8h1.4v1.4h-1.4zM144.8 63.8h1.4v1.4h-1.4zM146.8 63.8h1.4v1.4h-1.4zM148.8 63.8h1.4v1.4h-1.4zM150.8 63.8h1.4v1.4h-1.4zM153.8 63.8h1.4v1.4h-1.4zM155.8 63.8h1.4v1.4h-1.4zM157.8 64.8h1.4v1.4h-1.4zM159.8 62.8h1.4v1.4h-1.4zM162.8 63.8h1.4v1.4h-1.4zM164.8 62.8h1.4v1.4h-1.4zM166.8 62.8h1.4v1.4h-1.4zM168.8 62.8h1.4v1.4h-1.4zM171.8 62.8h1.4v1.4h-1.4zM173.8 61.8h1.4v1.4h-1.4zM175.8 63.8h1.4v1.4h-1.4zM177.8 63.8h1.4v1.4h-1.4zM182.8 63.8h1.4v1.4h-1.4zM184.8 62.8h1.4v1.4h-1.4zM186.8 62.8h1.4v1.4h-1.4zM189.8 61.8h1.4v1.4h-1.4zM191.8 62.8h1.4v1.4h-1.4zM193.8 62.8h1.4v1.4h-1.4zM195.8 63.8h1.4v1.4h-1.4zM198.8 62.8h1.4v1.4h-1.4zM200.8 62.8h1.4v1.4h-1.4zM202.8 62.8h1.4v1.4h-1.4zM207.8 62.8h1.4v1.4h-1.4zM209.8 63.8h1.4v1.4h-1.4zM211.8 60.8h1.4v1.4h-1.4zM213.8 62.8h1.4v1.4h-1.4zM218.8 60.8h1.4v1.4h-1.4zM220.8 61.8h1.4v1.4h-1.4zM62.8 75.8h1.4v1.4h-1.4zM64.8 74.8h1.4v1.4h-1.4zM67.8 73.8h1.4v1.4h-1.4zM71.8 72.8h1.4v1.4h-1.4zM73.8 72.8h1.4v1.4h-1.4zM76.8 71.8h1.4v1.4h-1.4zM78.8 71.8h1.4v1.4h-1.4zM82.8 70.8h1.4v1.4h-1.4zM85.8 70.8h1.4v1.4h-1.4zM87.8 70.8h1.4v1.4h-1.4zM89.8 69.8h1.4v1.4h-1.4zM91.8 70.8h1.4v1.4h-1.4zM94.8 71.8h1.4v1.4h-1.4zM100.8 69.8h1.4v1.4h-1.4zM103.8 68.8h1.4v1.4h-1.4zM105.8 69.8h1.4v1.4h-1.4zM109.8 69.8h1.4v1.4h-1.4zM114.8 67.8h1.4v1.4h-1.4zM118.8 69.8h1.4v1.4h-1.4zM142.8 71.8h1.4v1.4h-1.4zM144.8 71.8h1.4v1.4h-1.4zM148.8 71.8h1.4v1.4h-1.4zM153.8 71.8h1.4v1.4h-1.4zM155.8 70.8h1.4v1.4h-1.4zM157.8 71.8h1.4v1.4h-1.4zM160.8 71.8h1.4v1.4h-1.4zM162.8 71.8h1.4v1.4h-1.4zM166.8 69.8h1.4v1.4h-1.4zM169.8 70.8h1.4v1.4h-1.4zM173.8 70.8h1.4v1.4h-1.4zM180.8 70.8h1.4v1.4h-1.4zM182.8 71.8h1.4v1.4h-1.4zM184.8 71.8h1.4v1.4h-1.4zM187.8 70.8h1.4v1.4h-1.4zM189.8 70.8h1.4v1.4h-1.4zM191.8 70.8h1.4v1.4h-1.4zM196.8 69.8h1.4v1.4h-1.4zM198.8 69.8h1.4v1.4h-1.4zM202.8 69.8h1.4v1.4h-1.4zM205.8 70.8h1.4v1.4h-1.4zM211.8 70.8h1.4v1.4h-1.4zM214.8 70.8h1.4v1.4h-1.4zM216.8 70.8h1.4v1.4h-1.4zM218.8 70.8h1.4v1.4h-1.4zM220.8 70.8h1.4v1.4h-1.4zM223.8 70.8h1.4v1.4h-1.4zM63.8 83.8h1.4v1.4h-1.4zM65.8 81.8h1.4v1.4h-1.4zM67.8 82.8h1.4v1.4h-1.4zM70.8 80.8h1.4v1.4h-1.4zM72.8 79.8h1.4v1.4h-1.4zM74.8 79.8h1.4v1.4h-1.4zM79.8 79.8h1.4v1.4h-1.4zM83.8 76.8h1.4v1.4h-1.4zM85.8 77.8h1.4v1.4h-1.4zM92.8 78.8h1.4v1.4h-1.4zM94.8 78.8h1.4v1.4h-1.4zM99.8 77.8h1.4v1.4h-1.4zM101.8 76.8h1.4v1.4h-1.4zM103.8 76.8h1.4v1.4h-1.4zM108.8 76.8h1.4v1.4h-1.4zM110.8 76.8h1.4v1.4h-1.4zM112.8 76.8h1.4v1.4h-1.4zM115.8 77.8h1.4v1.4h-1.4zM117.8 76.8h1.4v1.4h-1.4zM119.8 75.8h1.4v1.4h-1.4zM124.8 76.8h1.4v1.4h-1.4zM126.8 75.8h1.4v1.4h-1.4zM128.8 75.8h1.4v1.4h-1.4zM133.8 76.8h1.4v1.4h-1.4zM135.8 75.8h1.4v1.4h-1.4zM139.8 75.8h1.4v1.4h-1.4zM155.8 75.8h1.4v1.4h-1.4zM160.8 74.8h1.4v1.4h-1.4zM162.8 75.8h1.4v1.4h-1.4zM164.8 75.8h1.4v1.4h-1.4zM173.8 73.8h1.4v1.4h-1.4zM176.8 73.8h1.4v1.4h-1.4zM178.8 74.8h1.4v1.4h-1.4zM180.8 74.8h1.4v1.4h-1.4zM182.8 74.8h1.4v1.4h-1.4zM185.8 75.8h1.4v1.4h-1.4zM187.8 74.8h1.4v1.4h-1.4zM191.8 73.8h1.4v1.4h-1.4zM196.8 74.8h1.4v1.4h-1.4zM198.8 74.8h1.4v1.4h-1.4zM200.8 74.8h1.4v1.4h-1.4zM203.8 74.8h1.4v1.4h-1.4zM207.8 73.8h1.4v1.4h-1.4zM209.8 74.8h1.4v1.4h-1.4zM212.8 74.8h1.4v1.4h-1.4zM214.8 74.8h1.4v1.4h-1.4zM216.8 73.8h1.4v1.4h-1.4zM218.8 72.8h1.4v1.4h-1.4zM221.8 74.8h1.4v1.4h-1.4zM62.8 121.8h1.4v1.4h-1.4zM64.8 120.8h1.4v1.4h-1.4zM66.8 119.8h1.4v1.4h-1.4zM69.8 118.8h1.4v1.4h-1.4zM71.8 118.8h1.4v1.4h-1.4zM73.8 118.8h1.4v1.4h-1.4zM75.8 118.8h1.4v1.4h-1.4zM78.8 119.8h1.4v1.4h-1.4zM80.8 118.8h1.4v1.4h-1.4zM82.8 118.8h1.4v1.4h-1.4zM84.8 118.8h1.4v1.4h-1.4zM87.8 117.8h1.4v1.4h-1.4zM89.8 118.8h1.4v1.4h-1.4zM91.8 118.8h1.4v1.4h-1.4zM93.8 117.8h1.4v1.4h-1.4zM96.8 117.8h1.4v1.4h-1.4zM98.8 117.8h1.4v1.4h-1.4zM100.8 118.8h1.4v1.4h-1.4zM102.8 117.8h1.4v1.4h-1.4zM105.8 118.8h1.4v1.4h-1.4zM109.8 118.8h1.4v1.4h-1.4zM114.8 118.8h1.4v1.4h-1.4zM120.8 117.8h1.4v1.4h-1.4zM123.8 117.8h1.4v1.4h-1.4zM125.8 118.8h1.4v1.4h-1.4zM127.8 118.8h1.4v1.4h-1.4zM132.8 116.8h1.4v1.4h-1.4zM136.8 116.8h1.4v1.4h-1.4zM138.8 117.8h1.4v1.4h-1.4zM141.8 117.8h1.4v1.4h-1.4zM143.8 116.8h1.4v1.4h-1.4zM145.8 116.8h1.4v1.4h-1.4zM147.8 117.8h1.4v1.4h-1.4zM150.8 117.8h1.4v1.4h-1.4zM154.8 118.8h1.4v1.4h-1.4zM162.8 121.8h1.4v1.4h-1.4zM164.8 121.8h1.4v1.4h-1.4zM166.8 120.8h1.4v1.4h-1.4zM171.8 120.8h1.4v1.4h-1.4zM173.8 121.8h1.4v1.4h-1.4zM175.8 121.8h1.4v1.4h-1.4zM177.8 120.8h1.4v1.4h-1.4zM184.8 121.8h1.4v1.4h-1.4zM189.8 120.8h1.4v1.4h-1.4zM193.8 120.8h1.4v1.4h-1.4zM195.8 121.8h1.4v1.4h-1.4zM198.8 121.8h1.4v1.4h-1.4zM200.8 121.8h1.4v1.4h-1.4zM202.8 121.8h1.4v1.4h-1.4zM207.8 121.8h1.4v1.4h-1.4zM209.8 120.8h1.4v1.4h-1.4zM211.8 120.8h1.4v1.4h-1.4zM213.8 121.8h1.4v1.4h-1.4zM218.8 121.8h1.4v1.4h-1.4zM220.8 121.8h1.4v1.4h-1.4zM222.8 122.8h1.4v1.4h-1.4zM62.8 130.8h1.4v1.4h-1.4zM65.8 130.8h1.4v1.4h-1.4zM67.8 129.8h1.4v1.4h-1.4zM69.8 128.8h1.4v1.4h-1.4zM141.8 128.8h1.4v1.4h-1.4zM146.8 126.8h1.4v1.4h-1.4zM150.8 126.8h1.4v1.4h-1.4zM155.8 127.8h1.4v1.4h-1.4zM159.8 127.8h1.4v1.4h-1.4zM161.8 127.8h1.4v1.4h-1.4zM166.8 128.8h1.4v1.4h-1.4zM168.8 127.8h1.4v1.4h-1.4zM173.8 126.8h1.4v1.4h-1.4zM175.8 128.8h1.4v1.4h-1.4zM177.8 127.8h1.4v1.4h-1.4zM184.8 128.8h1.4v1.4h-1.4zM186.8 127.8h1.4v1.4h-1.4zM188.8 126.8h1.4v1.4h-1.4zM191.8 127.8h1.4v1.4h-1.4zM193.8 127.8h1.4v1.4h-1.4zM195.8 127.8h1.4v1.4h-1.4zM172 113.1h1.4v1.4h-1.4zM175.6 114.5h1.4v1.4h-1.4z" fill="#222"/>
</g>
<path d="M60.6 16.9v4.9M60.6 135.9v-4.9M128.77 16.9v4.9M128.77 135.9v-4.9M196.93 16.9v4.9M196.93 135.9v-4.9M60.6 133.34h2.8M224.2 133.34h-2.8M60.6 129.99h2.8M224.2 129.99h-2.8M60.6 127h4.9M224.2 127h-4.9M60.6 107.31h2.8M224.2 107.31h-2.8M60.6 95.8h2.8M224.2 95.8h-2.8M60.6 87.63h2.8M224.2 87.63h-2.8M60.6 81.29h2.8M224.2 81.29h-2.8M60.6 76.11h2.8M224.2 76.11h-2.8M60.6 71.73h2.8M224.2 71.73h-2.8M60.6 67.94h2.8M224.2 67.94h-2.8M60.6 64.59h2.8M224.2 64.59h-2.8M60.6 61.6h4.9M224.2 61.6h-4.9M60.6 41.91h2.8M224.2 41.91h-2.8M60.6 30.4h2.8M224.2 30.4h-2.8M60.6 22.23h2.8M224.2 22.23h-2.8" stroke="#000" stroke-width="1" fill="none"/>
<rect x="60.6" y="16.9" width="163.6" height="119" fill="none" stroke="#000" stroke-width="1.1"/>
<text x="60.6" y="151.4" font-size="14.4" text-anchor="middle" textLength="8.2" lengthAdjust="spacingAndGlyphs" fill="#000">0</text>
<text x="128.77" y="151.4" font-size="14.4" text-anchor="middle" textLength="17" lengthAdjust="spacingAndGlyphs" letter-spacing="0.6" fill="#000">10</text>
<text x="196.93" y="151.4" font-size="14.4" text-anchor="middle" textLength="17" lengthAdjust="spacingAndGlyphs" letter-spacing="0.6" fill="#000">20</text>
<text x="48" y="132.3" font-size="14.4" text-anchor="end" textLength="16.2" lengthAdjust="spacingAndGlyphs" letter-spacing="0.6" fill="#000">10</text>
<text x="49.7" y="127.5" font-size="10.4" textLength="5.6" lengthAdjust="spacingAndGlyphs" fill="#000">5</text>
<text x="48" y="66.9" font-size="14.4" text-anchor="end" textLength="16.2" lengthAdjust="spacingAndGlyphs" letter-spacing="0.6" fill="#000">10</text>
<text x="49.7" y="62.1" font-size="10.4" textLength="5.6" lengthAdjust="spacingAndGlyphs" fill="#000">6</text>
<text x="45.3" y="10.8" font-size="12.5" fill="#000">a)</text>
<text x="178.4" y="104.5" font-size="11.9" textLength="30.8" lengthAdjust="spacingAndGlyphs" letter-spacing="0.6" fill="#000">300 K</text>
<clipPath id="clipb"><rect x="286.9" y="17" width="163.5" height="118.9"/></clipPath>
<path d="M355.02 17V135.9M423.15 17V135.9M286.9 86.9H450.4M286.9 37.8H450.4" stroke="#b0b0b0" stroke-width="1" fill="none"/>
<g clip-path="url(#clipb)">
<path d="M288.2 44 L288.13 27.65 L288.18 27.55 L288.23 27.44 L288.29 27.33 L288.34 27.23 L288.4 27.12 L288.47 27.02 L288.53 26.91 L288.6 26.81 L288.67 26.71 L288.74 26.6 L288.82 26.5 L288.9 26.4 L288.98 26.31 L289.07 26.21 L289.16 26.12 L289.25 26.02 L289.35 25.93 L289.45 25.85 L289.56 25.76 L289.67 25.68 L289.79 25.6 L289.91 25.52 L290.03 25.45 L290.16 25.38 L290.3 25.31 L290.44 25.24 L290.59 25.18 L290.74 25.12 L290.9 25.07 L291.07 25.02 L291.24 24.97 L291.42 24.92 L291.61 24.88 L291.81 24.83 L292.01 24.8 L292.22 24.76 L292.44 24.73 L292.67 24.69 L292.91 24.66 L293.16 24.64 L293.43 24.61 L293.7 24.58 L293.98 24.56 L294.27 24.54 L294.58 24.52 L294.9 24.5 L295.23 24.48 L295.58 24.46 L295.94 24.44 L296.32 24.42 L296.71 24.4 L297.12 24.39 L297.54 24.37 L297.99 24.35 L298.45 24.34 L298.93 24.32 L299.43 24.3 L299.95 24.29 L300.49 24.27 L301.06 24.26 L301.65 24.24 L302.26 24.22 L302.9 24.21 L303.57 24.19 L304.26 24.18 L304.98 24.16 L305.74 24.14 L306.52 24.13 L307.34 24.11 L308.19 24.1 L309.07 24.08 L310 24.06 L310.96 24.05 L311.96 24.03 L313 24.02 L314.09 24 L315.22 23.99 L316.4 23.97 L317.63 23.95 L318.9 23.94 L320.24 23.92 L321.62 23.91 L323.07 23.89 L324.57 23.87 L326.14 23.86 L327.77 23.84 L329.48 23.83 L331.25 23.81 L333.09 23.79 L335.02 23.78 L337.02 23.76 L339.1 23.75 L341.28 23.73 L343.54 23.71 L345.9 23.7 L348.35 23.68 L350.91 23.67 L353.57 23.65 L356.35 23.63 L359.24 23.62 L362.25 23.6 L365.38 23.59 L368.65 23.57 L372.05 23.55 L375.6 23.54 L379.29 23.52 L383.13 23.51 L387.14 23.49 L391.31 23.48 L395.65 23.46 L400.18 23.44 L404.89 23.43 L409.8 23.41 L414.92 23.4 L420.25 23.38 L425.79 23.36 L431.58 23.35 L437.6 23.33 L443.87 23.32 L450.4 23.3" stroke="#0a0af5" stroke-width="2" fill="none" stroke-linejoin="round"/>
<path d="M288.2 46 L288.13 31.64 L288.18 31.54 L288.23 31.43 L288.29 31.33 L288.34 31.22 L288.4 31.12 L288.47 31.02 L288.53 30.91 L288.6 30.81 L288.67 30.71 L288.74 30.61 L288.82 30.51 L288.9 30.41 L288.98 30.32 L289.07 30.22 L289.16 30.13 L289.25 30.04 L289.35 29.95 L289.45 29.87 L289.56 29.78 L289.67 29.7 L289.79 29.62 L289.91 29.55 L290.03 29.48 L290.16 29.41 L290.3 29.34 L290.44 29.28 L290.59 29.22 L290.74 29.16 L290.9 29.11 L291.07 29.06 L291.24 29.01 L291.42 28.96 L291.61 28.92 L291.81 28.88 L292.01 28.85 L292.22 28.81 L292.44 28.78 L292.67 28.75 L292.91 28.72 L293.16 28.69 L293.43 28.67 L293.7 28.65 L293.98 28.62 L294.27 28.6 L294.58 28.58 L294.9 28.57 L295.23 28.55 L295.58 28.53 L295.94 28.51 L296.32 28.5 L296.71 28.48 L297.12 28.47 L297.54 28.45 L297.99 28.44 L298.45 28.42 L298.93 28.41 L299.43 28.39 L299.95 28.38 L300.49 28.36 L301.06 28.35 L301.65 28.34 L302.26 28.32 L302.9 28.31 L303.57 28.29 L304.26 28.28 L304.98 28.26 L305.74 28.25 L306.52 28.24 L307.34 28.22 L308.19 28.21 L309.07 28.19 L310 28.18 L310.96 28.17 L311.96 28.15 L313 28.14 L314.09 28.12 L315.22 28.11 L316.4 28.09 L317.63 28.08 L318.9 28.07 L320.24 28.05 L321.62 28.04 L323.07 28.02 L324.57 28.01 L326.14 28 L327.77 27.98 L329.48 27.97 L331.25 27.95 L333.09 27.94 L335.02 27.92 L337.02 27.91 L339.1 27.9 L341.28 27.88 L343.54 27.87 L345.9 27.85 L348.35 27.84 L350.91 27.83 L353.57 27.81 L356.35 27.8 L359.24 27.78 L362.25 27.77 L365.38 27.75 L368.65 27.74 L372.05 27.73 L375.6 27.71 L379.29 27.7 L383.13 27.68 L387.14 27.67 L391.31 27.66 L395.65 27.64 L400.18 27.63 L404.89 27.61 L409.8 27.6 L414.92 27.58 L420.25 27.57 L425.79 27.56 L431.58 27.54 L437.6 27.53 L443.87 27.51 L450.4 27.5" stroke="#0a0af5" stroke-width="2" fill="none" stroke-linejoin="round"/>
<path d="M288.2 48 L288.13 36.75 L288.18 36.65 L288.23 36.54 L288.29 36.43 L288.34 36.33 L288.4 36.22 L288.47 36.12 L288.53 36.01 L288.6 35.91 L288.67 35.81 L288.74 35.7 L288.82 35.6 L288.9 35.5 L288.98 35.41 L289.07 35.31 L289.16 35.22 L289.25 35.12 L289.35 35.03 L289.45 34.95 L289.56 34.86 L289.67 34.78 L289.79 34.7 L289.91 34.62 L290.03 34.55 L290.16 34.48 L290.3 34.41 L290.44 34.34 L290.59 34.28 L290.74 34.22 L290.9 34.17 L291.07 34.12 L291.24 34.07 L291.42 34.02 L291.61 33.98 L291.81 33.93 L292.01 33.9 L292.22 33.86 L292.44 33.83 L292.67 33.79 L292.91 33.76 L293.16 33.74 L293.43 33.71 L293.7 33.68 L293.98 33.66 L294.27 33.64 L294.58 33.62 L294.9 33.6 L295.23 33.58 L295.58 33.56 L295.94 33.54 L296.32 33.52 L296.71 33.5 L297.12 33.49 L297.54 33.47 L297.99 33.45 L298.45 33.44 L298.93 33.42 L299.43 33.4 L299.95 33.39 L300.49 33.37 L301.06 33.36 L301.65 33.34 L302.26 33.32 L302.9 33.31 L303.57 33.29 L304.26 33.28 L304.98 33.26 L305.74 33.24 L306.52 33.23 L307.34 33.21 L308.19 33.2 L309.07 33.18 L310 33.16 L310.96 33.15 L311.96 33.13 L313 33.12 L314.09 33.1 L315.22 33.09 L316.4 33.07 L317.63 33.05 L318.9 33.04 L320.24 33.02 L321.62 33.01 L323.07 32.99 L324.57 32.97 L326.14 32.96 L327.77 32.94 L329.48 32.93 L331.25 32.91 L333.09 32.89 L335.02 32.88 L337.02 32.86 L339.1 32.85 L341.28 32.83 L343.54 32.81 L345.9 32.8 L348.35 32.78 L350.91 32.77 L353.57 32.75 L356.35 32.73 L359.24 32.72 L362.25 32.7 L365.38 32.69 L368.65 32.67 L372.05 32.65 L375.6 32.64 L379.29 32.62 L383.13 32.61 L387.14 32.59 L391.31 32.58 L395.65 32.56 L400.18 32.54 L404.89 32.53 L409.8 32.51 L414.92 32.5 L420.25 32.48 L425.79 32.46 L431.58 32.45 L437.6 32.43 L443.87 32.42 L450.4 32.4" stroke="#0a0af5" stroke-width="2" fill="none" stroke-linejoin="round"/>
<path d="M288.2 50 L288.13 39.78 L288.18 39.67 L288.23 39.56 L288.29 39.45 L288.34 39.34 L288.4 39.23 L288.47 39.12 L288.53 39.01 L288.6 38.91 L288.67 38.8 L288.74 38.69 L288.82 38.59 L288.9 38.49 L288.98 38.38 L289.07 38.28 L289.16 38.19 L289.25 38.09 L289.35 38 L289.45 37.91 L289.56 37.82 L289.67 37.73 L289.79 37.65 L289.91 37.57 L290.03 37.49 L290.16 37.42 L290.3 37.35 L290.44 37.28 L290.59 37.21 L290.74 37.15 L290.9 37.09 L291.07 37.03 L291.24 36.98 L291.42 36.93 L291.61 36.88 L291.81 36.84 L292.01 36.8 L292.22 36.76 L292.44 36.72 L292.67 36.68 L292.91 36.65 L293.16 36.62 L293.43 36.59 L293.7 36.56 L293.98 36.53 L294.27 36.51 L294.58 36.48 L294.9 36.46 L295.23 36.44 L295.58 36.41 L295.94 36.39 L296.32 36.37 L296.71 36.35 L297.12 36.33 L297.54 36.31 L297.99 36.29 L298.45 36.27 L298.93 36.25 L299.43 36.23 L299.95 36.21 L300.49 36.19 L301.06 36.17 L301.65 36.15 L302.26 36.13 L302.9 36.11 L303.57 36.09 L304.26 36.07 L304.98 36.05 L305.74 36.03 L306.52 36.01 L307.34 35.99 L308.19 35.97 L309.07 35.95 L310 35.93 L310.96 35.92 L311.96 35.9 L313 35.88 L314.09 35.86 L315.22 35.84 L316.4 35.82 L317.63 35.8 L318.9 35.78 L320.24 35.76 L321.62 35.74 L323.07 35.72 L324.57 35.7 L326.14 35.68 L327.77 35.66 L329.48 35.64 L331.25 35.62 L333.09 35.6 L335.02 35.58 L337.02 35.56 L339.1 35.55 L341.28 35.53 L343.54 35.51 L345.9 35.49 L348.35 35.47 L350.91 35.45 L353.57 35.43 L356.35 35.41 L359.24 35.39 L362.25 35.37 L365.38 35.35 L368.65 35.33 L372.05 35.31 L375.6 35.29 L379.29 35.27 L383.13 35.25 L387.14 35.23 L391.31 35.21 L395.65 35.19 L400.18 35.18 L404.89 35.16 L409.8 35.14 L414.92 35.12 L420.25 35.1 L425.79 35.08 L431.58 35.06 L437.6 35.04 L443.87 35.02 L450.4 35" stroke="#0a0af5" stroke-width="2" fill="none" stroke-linejoin="round"/>
<path d="M288.2 52 L288.13 41.28 L288.18 41.17 L288.23 41.06 L288.29 40.95 L288.34 40.84 L288.4 40.73 L288.47 40.62 L288.53 40.51 L288.6 40.41 L288.67 40.3 L288.74 40.19 L288.82 40.09 L288.9 39.99 L288.98 39.88 L289.07 39.78 L289.16 39.69 L289.25 39.59 L289.35 39.5 L289.45 39.41 L289.56 39.32 L289.67 39.23 L289.79 39.15 L289.91 39.07 L290.03 38.99 L290.16 38.92 L290.3 38.85 L290.44 38.78 L290.59 38.71 L290.74 38.65 L290.9 38.59 L291.07 38.53 L291.24 38.48 L291.42 38.43 L291.61 38.38 L291.81 38.34 L292.01 38.3 L292.22 38.26 L292.44 38.22 L292.67 38.18 L292.91 38.15 L293.16 38.12 L293.43 38.09 L293.7 38.06 L293.98 38.03 L294.27 38.01 L294.58 37.98 L294.9 37.96 L295.23 37.94 L295.58 37.91 L295.94 37.89 L296.32 37.87 L296.71 37.85 L297.12 37.83 L297.54 37.81 L297.99 37.79 L298.45 37.77 L298.93 37.75 L299.43 37.73 L299.95 37.71 L300.49 37.69 L301.06 37.67 L301.65 37.65 L302.26 37.63 L302.9 37.61 L303.57 37.59 L304.26 37.57 L304.98 37.55 L305.74 37.53 L306.52 37.51 L307.34 37.49 L308.19 37.47 L309.07 37.45 L310 37.43 L310.96 37.42 L311.96 37.4 L313 37.38 L314.09 37.36 L315.22 37.34 L316.4 37.32 L317.63 37.3 L318.9 37.28 L320.24 37.26 L321.62 37.24 L323.07 37.22 L324.57 37.2 L326.14 37.18 L327.77 37.16 L329.48 37.14 L331.25 37.12 L333.09 37.1 L335.02 37.08 L337.02 37.06 L339.1 37.05 L341.28 37.03 L343.54 37.01 L345.9 36.99 L348.35 36.97 L350.91 36.95 L353.57 36.93 L356.35 36.91 L359.24 36.89 L362.25 36.87 L365.38 36.85 L368.65 36.83 L372.05 36.81 L375.6 36.79 L379.29 36.77 L383.13 36.75 L387.14 36.73 L391.31 36.71 L395.65 36.69 L400.18 36.68 L404.89 36.66 L409.8 36.64 L414.92 36.62 L420.25 36.6 L425.79 36.58 L431.58 36.56 L437.6 36.54 L443.87 36.52 L450.4 36.5" stroke="#0a0af5" stroke-width="2" fill="none" stroke-linejoin="round"/>
<path d="M288.2 52 L288.13 49.5 L288.18 49.39 L288.23 49.28 L288.29 49.16 L288.34 49.05 L288.4 48.94 L288.47 48.83 L288.53 48.71 L288.6 48.6 L288.67 48.49 L288.74 48.38 L288.82 48.27 L288.9 48.17 L288.98 48.06 L289.07 47.96 L289.16 47.86 L289.25 47.76 L289.35 47.66 L289.45 47.57 L289.56 47.48 L289.67 47.39 L289.79 47.3 L289.91 47.22 L290.03 47.14 L290.16 47.06 L290.3 46.98 L290.44 46.91 L290.59 46.84 L290.74 46.78 L290.9 46.71 L291.07 46.65 L291.24 46.6 L291.42 46.54 L291.61 46.49 L291.81 46.44 L292.01 46.4 L292.22 46.35 L292.44 46.31 L292.67 46.27 L292.91 46.24 L293.16 46.2 L293.43 46.17 L293.7 46.14 L293.98 46.11 L294.27 46.08 L294.58 46.05 L294.9 46.02 L295.23 45.99 L295.58 45.97 L295.94 45.94 L296.32 45.92 L296.71 45.89 L297.12 45.87 L297.54 45.84 L297.99 45.82 L298.45 45.8 L298.93 45.77 L299.43 45.75 L299.95 45.73 L300.49 45.7 L301.06 45.68 L301.65 45.66 L302.26 45.64 L302.9 45.61 L303.57 45.59 L304.26 45.57 L304.98 45.54 L305.74 45.52 L306.52 45.5 L307.34 45.47 L308.19 45.45 L309.07 45.43 L310 45.4 L310.96 45.38 L311.96 45.36 L313 45.34 L314.09 45.31 L315.22 45.29 L316.4 45.27 L317.63 45.24 L318.9 45.22 L320.24 45.2 L321.62 45.17 L323.07 45.15 L324.57 45.13 L326.14 45.11 L327.77 45.08 L329.48 45.06 L331.25 45.04 L333.09 45.01 L335.02 44.99 L337.02 44.97 L339.1 44.94 L341.28 44.92 L343.54 44.9 L345.9 44.88 L348.35 44.85 L350.91 44.83 L353.57 44.81 L356.35 44.78 L359.24 44.76 L362.25 44.74 L365.38 44.71 L368.65 44.69 L372.05 44.67 L375.6 44.65 L379.29 44.62 L383.13 44.6 L387.14 44.58 L391.31 44.55 L395.65 44.53 L400.18 44.51 L404.89 44.48 L409.8 44.46 L414.92 44.44 L420.25 44.42 L425.79 44.39 L431.58 44.37 L437.6 44.35 L443.87 44.32 L450.4 44.3" stroke="#0a0af5" stroke-width="2" fill="none" stroke-linejoin="round"/>
<path d="M288.2 59 L288.13 58.89 L288.18 58.76 L288.23 58.64 L288.29 58.51 L288.34 58.39 L288.4 58.26 L288.47 58.14 L288.53 58.01 L288.6 57.89 L288.67 57.77 L288.74 57.65 L288.82 57.53 L288.9 57.41 L288.98 57.29 L289.07 57.17 L289.16 57.06 L289.25 56.95 L289.35 56.84 L289.45 56.73 L289.56 56.63 L289.67 56.53 L289.79 56.43 L289.91 56.33 L290.03 56.24 L290.16 56.15 L290.3 56.06 L290.44 55.98 L290.59 55.89 L290.74 55.82 L290.9 55.74 L291.07 55.67 L291.24 55.6 L291.42 55.53 L291.61 55.47 L291.81 55.41 L292.01 55.35 L292.22 55.3 L292.44 55.24 L292.67 55.19 L292.91 55.14 L293.16 55.09 L293.43 55.05 L293.7 55 L293.98 54.96 L294.27 54.92 L294.58 54.88 L294.9 54.84 L295.23 54.8 L295.58 54.76 L295.94 54.72 L296.32 54.69 L296.71 54.65 L297.12 54.61 L297.54 54.58 L297.99 54.54 L298.45 54.5 L298.93 54.47 L299.43 54.43 L299.95 54.4 L300.49 54.36 L301.06 54.33 L301.65 54.29 L302.26 54.25 L302.9 54.22 L303.57 54.18 L304.26 54.15 L304.98 54.11 L305.74 54.08 L306.52 54.04 L307.34 54.01 L308.19 53.97 L309.07 53.94 L310 53.9 L310.96 53.86 L311.96 53.83 L313 53.79 L314.09 53.76 L315.22 53.72 L316.4 53.69 L317.63 53.65 L318.9 53.62 L320.24 53.58 L321.62 53.55 L323.07 53.51 L324.57 53.47 L326.14 53.44 L327.77 53.4 L329.48 53.37 L331.25 53.33 L333.09 53.3 L335.02 53.26 L337.02 53.23 L339.1 53.19 L341.28 53.16 L343.54 53.12 L345.9 53.09 L348.35 53.05 L350.91 53.01 L353.57 52.98 L356.35 52.94 L359.24 52.91 L362.25 52.87 L365.38 52.84 L368.65 52.8 L372.05 52.77 L375.6 52.73 L379.29 52.7 L383.13 52.66 L387.14 52.62 L391.31 52.59 L395.65 52.55 L400.18 52.52 L404.89 52.48 L409.8 52.45 L414.92 52.41 L420.25 52.38 L425.79 52.34 L431.58 52.31 L437.6 52.27 L443.87 52.24 L450.4 52.2" stroke="#0a0af5" stroke-width="2" fill="none" stroke-linejoin="round"/>
<path d="M288.2 67 L288.13 65.26 L288.18 65.16 L288.23 65.05 L288.29 64.94 L288.34 64.83 L288.4 64.73 L288.47 64.62 L288.53 64.51 L288.6 64.41 L288.67 64.3 L288.74 64.2 L288.82 64.1 L288.9 63.99 L288.98 63.9 L289.07 63.8 L289.16 63.7 L289.25 63.61 L289.35 63.52 L289.45 63.43 L289.56 63.34 L289.67 63.26 L289.79 63.17 L289.91 63.1 L290.03 63.02 L290.16 62.95 L290.3 62.88 L290.44 62.81 L290.59 62.75 L290.74 62.69 L290.9 62.63 L291.07 62.58 L291.24 62.52 L291.42 62.48 L291.61 62.43 L291.81 62.39 L292.01 62.35 L292.22 62.31 L292.44 62.27 L292.67 62.24 L292.91 62.21 L293.16 62.18 L293.43 62.15 L293.7 62.12 L293.98 62.1 L294.27 62.07 L294.58 62.05 L294.9 62.03 L295.23 62.01 L295.58 61.99 L295.94 61.97 L296.32 61.95 L296.71 61.93 L297.12 61.91 L297.54 61.89 L297.99 61.87 L298.45 61.85 L298.93 61.83 L299.43 61.82 L299.95 61.8 L300.49 61.78 L301.06 61.76 L301.65 61.74 L302.26 61.73 L302.9 61.71 L303.57 61.69 L304.26 61.67 L304.98 61.66 L305.74 61.64 L306.52 61.62 L307.34 61.6 L308.19 61.59 L309.07 61.57 L310 61.55 L310.96 61.53 L311.96 61.51 L313 61.5 L314.09 61.48 L315.22 61.46 L316.4 61.44 L317.63 61.43 L318.9 61.41 L320.24 61.39 L321.62 61.37 L323.07 61.36 L324.57 61.34 L326.14 61.32 L327.77 61.3 L329.48 61.28 L331.25 61.27 L333.09 61.25 L335.02 61.23 L337.02 61.21 L339.1 61.2 L341.28 61.18 L343.54 61.16 L345.9 61.14 L348.35 61.12 L350.91 61.11 L353.57 61.09 L356.35 61.07 L359.24 61.05 L362.25 61.04 L365.38 61.02 L368.65 61 L372.05 60.98 L375.6 60.97 L379.29 60.95 L383.13 60.93 L387.14 60.91 L391.31 60.89 L395.65 60.88 L400.18 60.86 L404.89 60.84 L409.8 60.82 L414.92 60.81 L420.25 60.79 L425.79 60.77 L431.58 60.75 L437.6 60.74 L443.87 60.72 L450.4 60.7" stroke="#0a0af5" stroke-width="2" fill="none" stroke-linejoin="round"/>
<path d="M288.2 77 L288.13 76.72 L288.18 76.66 L288.23 76.6 L288.29 76.54 L288.34 76.48 L288.4 76.42 L288.47 76.37 L288.53 76.31 L288.6 76.25 L288.67 76.19 L288.74 76.13 L288.82 76.08 L288.9 76.02 L288.98 75.97 L289.07 75.91 L289.16 75.86 L289.25 75.81 L289.35 75.76 L289.45 75.71 L289.56 75.66 L289.67 75.61 L289.79 75.56 L289.91 75.52 L290.03 75.48 L290.16 75.43 L290.3 75.39 L290.44 75.35 L290.59 75.32 L290.74 75.28 L290.9 75.25 L291.07 75.22 L291.24 75.18 L291.42 75.16 L291.61 75.13 L291.81 75.1 L292.01 75.07 L292.22 75.05 L292.44 75.03 L292.67 75 L292.91 74.98 L293.16 74.96 L293.43 74.94 L293.7 74.93 L293.98 74.91 L294.27 74.89 L294.58 74.87 L294.9 74.86 L295.23 74.84 L295.58 74.83 L295.94 74.81 L296.32 74.79 L296.71 74.78 L297.12 74.76 L297.54 74.75 L297.99 74.74 L298.45 74.72 L298.93 74.71 L299.43 74.69 L299.95 74.68 L300.49 74.66 L301.06 74.65 L301.65 74.64 L302.26 74.62 L302.9 74.61 L303.57 74.59 L304.26 74.58 L304.98 74.56 L305.74 74.55 L306.52 74.54 L307.34 74.52 L308.19 74.51 L309.07 74.49 L310 74.48 L310.96 74.47 L311.96 74.45 L313 74.44 L314.09 74.42 L315.22 74.41 L316.4 74.39 L317.63 74.38 L318.9 74.37 L320.24 74.35 L321.62 74.34 L323.07 74.32 L324.57 74.31 L326.14 74.3 L327.77 74.28 L329.48 74.27 L331.25 74.25 L333.09 74.24 L335.02 74.22 L337.02 74.21 L339.1 74.2 L341.28 74.18 L343.54 74.17 L345.9 74.15 L348.35 74.14 L350.91 74.13 L353.57 74.11 L356.35 74.1 L359.24 74.08 L362.25 74.07 L365.38 74.05 L368.65 74.04 L372.05 74.03 L375.6 74.01 L379.29 74 L383.13 73.98 L387.14 73.97 L391.31 73.96 L395.65 73.94 L400.18 73.93 L404.89 73.91 L409.8 73.9 L414.92 73.88 L420.25 73.87 L425.79 73.86 L431.58 73.84 L437.6 73.83 L443.87 73.81 L450.4 73.8" stroke="#0a0af5" stroke-width="2" fill="none" stroke-linejoin="round"/>
<path d="M288.13 114.9 L288.18 114.9 L288.23 114.9 L288.29 114.9 L288.34 114.9 L288.4 114.9 L288.47 114.9 L288.53 114.9 L288.6 114.9 L288.67 114.9 L288.74 114.9 L288.82 114.9 L288.9 114.9 L288.98 114.9 L289.07 114.9 L289.16 114.9 L289.25 114.9 L289.35 114.9 L289.45 114.9 L289.56 114.9 L289.67 114.9 L289.79 114.9 L289.91 114.9 L290.03 114.9 L290.16 114.9 L290.3 114.9 L290.44 114.9 L290.59 114.9 L290.74 114.9 L290.9 114.9 L291.07 114.9 L291.24 114.9 L291.42 114.9 L291.61 114.9 L291.81 114.9 L292.01 114.9 L292.22 114.9 L292.44 114.9 L292.67 114.9 L292.91 114.9 L293.16 114.9 L293.43 114.9 L293.7 114.9 L293.98 114.9 L294.27 114.9 L294.58 114.9 L294.9 114.9 L295.23 114.9 L295.58 114.9 L295.94 114.9 L296.32 114.9 L296.71 114.9 L297.12 114.9 L297.54 114.9 L297.99 114.9 L298.45 114.9 L298.93 114.9 L299.43 114.9 L299.95 114.9 L300.49 114.9 L301.06 114.9 L301.65 114.9 L302.26 114.9 L302.9 114.9 L303.57 114.9 L304.26 114.9 L304.98 114.9 L305.74 114.9 L306.52 114.9 L307.34 114.9 L308.19 114.9 L309.07 114.9 L310 114.9 L310.96 114.9 L311.96 114.9 L313 114.9 L314.09 114.9 L315.22 114.9 L316.4 114.9 L317.63 114.9 L318.9 114.9 L320.24 114.9 L321.62 114.9 L323.07 114.9 L324.57 114.9 L326.14 114.9 L327.77 114.9 L329.48 114.9 L331.25 114.9 L333.09 114.9 L335.02 114.9 L337.02 114.9 L339.1 114.9 L341.28 114.9 L343.54 114.9 L345.9 114.9 L348.35 114.9 L350.91 114.9 L353.57 114.9 L356.35 114.9 L359.24 114.9 L362.25 114.9 L365.38 114.9 L368.65 114.9 L372.05 114.9 L375.6 114.9 L379.29 114.9 L383.13 114.9 L387.14 114.9 L391.31 114.9 L395.65 114.9 L400.18 114.9 L404.89 114.9 L409.8 114.9 L414.92 114.9 L420.25 114.9 L425.79 114.9 L431.58 114.9 L437.6 114.9 L443.87 114.9 L450.4 114.9" stroke="#0a0af5" stroke-width="2" fill="none" stroke-linejoin="round"/>
<path d="M289.1 23.18h1.25v1.25h-1.25zM291.96 22.55h1.25v1.25h-1.25zM294.82 22.51h1.25v1.25h-1.25zM297.68 22.36h1.25v1.25h-1.25zM300.55 21.92h1.25v1.25h-1.25zM303.41 22.02h1.25v1.25h-1.25zM306.27 21.93h1.25v1.25h-1.25zM309.13 22.21h1.25v1.25h-1.25zM311.99 22.12h1.25v1.25h-1.25zM314.85 21.85h1.25v1.25h-1.25zM317.71 21.81h1.25v1.25h-1.25zM320.57 21.74h1.25v1.25h-1.25zM323.44 21.71h1.25v1.25h-1.25zM326.3 21.94h1.25v1.25h-1.25zM329.16 22.06h1.25v1.25h-1.25zM334.88 21.78h1.25v1.25h-1.25zM337.74 21.91h1.25v1.25h-1.25zM340.6 22h1.25v1.25h-1.25zM343.46 21.9h1.25v1.25h-1.25zM346.33 21.82h1.25v1.25h-1.25zM349.19 21.36h1.25v1.25h-1.25zM352.05 21.61h1.25v1.25h-1.25zM354.91 21.2h1.25v1.25h-1.25zM357.77 21.86h1.25v1.25h-1.25zM363.49 21.78h1.25v1.25h-1.25zM366.35 21.51h1.25v1.25h-1.25zM369.22 21.59h1.25v1.25h-1.25zM372.08 21.73h1.25v1.25h-1.25zM374.94 21.53h1.25v1.25h-1.25zM377.8 21.41h1.25v1.25h-1.25zM380.66 21.62h1.25v1.25h-1.25zM383.52 21.71h1.25v1.25h-1.25zM386.38 21.38h1.25v1.25h-1.25zM392.11 21.53h1.25v1.25h-1.25zM394.97 21.54h1.25v1.25h-1.25zM397.83 21.16h1.25v1.25h-1.25zM400.69 21.49h1.25v1.25h-1.25zM403.55 21.91h1.25v1.25h-1.25zM406.41 21.55h1.25v1.25h-1.25zM409.27 21.05h1.25v1.25h-1.25zM412.13 21.28h1.25v1.25h-1.25zM415 21.34h1.25v1.25h-1.25zM417.86 21.45h1.25v1.25h-1.25zM420.72 21.22h1.25v1.25h-1.25zM426.44 21.39h1.25v1.25h-1.25zM429.3 21.3h1.25v1.25h-1.25zM432.16 21.47h1.25v1.25h-1.25zM435.02 21.06h1.25v1.25h-1.25zM437.89 21.43h1.25v1.25h-1.25zM443.61 21.12h1.25v1.25h-1.25zM449.33 21.08h1.25v1.25h-1.25zM289.18 27.72h1.25v1.25h-1.25zM292.04 26.83h1.25v1.25h-1.25zM297.77 26.59h1.25v1.25h-1.25zM303.49 26.18h1.25v1.25h-1.25zM306.35 26.34h1.25v1.25h-1.25zM309.21 26.14h1.25v1.25h-1.25zM312.07 26.27h1.25v1.25h-1.25zM314.93 25.89h1.25v1.25h-1.25zM317.79 26.22h1.25v1.25h-1.25zM320.66 26h1.25v1.25h-1.25zM323.52 26.08h1.25v1.25h-1.25zM326.38 25.85h1.25v1.25h-1.25zM332.1 26.16h1.25v1.25h-1.25zM337.82 26.06h1.25v1.25h-1.25zM340.68 25.71h1.25v1.25h-1.25zM346.41 26.04h1.25v1.25h-1.25zM349.27 25.72h1.25v1.25h-1.25zM352.13 26h1.25v1.25h-1.25zM354.99 25.71h1.25v1.25h-1.25zM357.85 26.12h1.25v1.25h-1.25zM363.57 25.6h1.25v1.25h-1.25zM366.44 25.63h1.25v1.25h-1.25zM369.3 26.05h1.25v1.25h-1.25zM372.16 25.77h1.25v1.25h-1.25zM375.02 26.1h1.25v1.25h-1.25zM377.88 25.84h1.25v1.25h-1.25zM380.74 25.89h1.25v1.25h-1.25zM383.6 25.61h1.25v1.25h-1.25zM386.46 25.76h1.25v1.25h-1.25zM389.33 25.6h1.25v1.25h-1.25zM392.19 25.37h1.25v1.25h-1.25zM395.05 25.59h1.25v1.25h-1.25zM397.91 25.51h1.25v1.25h-1.25zM400.77 25.83h1.25v1.25h-1.25zM403.63 25.98h1.25v1.25h-1.25zM406.49 25.64h1.25v1.25h-1.25zM409.35 25.6h1.25v1.25h-1.25zM412.22 25.82h1.25v1.25h-1.25zM415.08 25.67h1.25v1.25h-1.25zM417.94 25.59h1.25v1.25h-1.25zM420.8 25.58h1.25v1.25h-1.25zM426.52 25.79h1.25v1.25h-1.25zM429.38 26.04h1.25v1.25h-1.25zM432.24 25.72h1.25v1.25h-1.25zM435.11 25.18h1.25v1.25h-1.25zM437.97 25.39h1.25v1.25h-1.25zM440.83 25.37h1.25v1.25h-1.25zM443.69 25.66h1.25v1.25h-1.25zM446.55 25.87h1.25v1.25h-1.25zM289.37 32.72h1.25v1.25h-1.25zM292.24 31.74h1.25v1.25h-1.25zM295.1 31.47h1.25v1.25h-1.25zM297.96 31.36h1.25v1.25h-1.25zM300.82 31.36h1.25v1.25h-1.25zM303.68 31.26h1.25v1.25h-1.25zM306.54 31.48h1.25v1.25h-1.25zM315.13 31.25h1.25v1.25h-1.25zM317.99 30.87h1.25v1.25h-1.25zM320.85 31.28h1.25v1.25h-1.25zM323.71 31.07h1.25v1.25h-1.25zM326.57 31.25h1.25v1.25h-1.25zM340.88 30.91h1.25v1.25h-1.25zM349.46 30.82h1.25v1.25h-1.25zM355.18 31.14h1.25v1.25h-1.25zM358.04 30.9h1.25v1.25h-1.25zM360.91 30.77h1.25v1.25h-1.25zM363.77 30.68h1.25v1.25h-1.25zM366.63 30.3h1.25v1.25h-1.25zM369.49 30.85h1.25v1.25h-1.25zM375.21 30.68h1.25v1.25h-1.25zM378.07 30.73h1.25v1.25h-1.25zM380.93 30.61h1.25v1.25h-1.25zM383.8 30.88h1.25v1.25h-1.25zM389.52 30.48h1.25v1.25h-1.25zM392.38 30.84h1.25v1.25h-1.25zM395.24 30.85h1.25v1.25h-1.25zM398.1 30.91h1.25v1.25h-1.25zM400.96 30.47h1.25v1.25h-1.25zM403.82 30.45h1.25v1.25h-1.25zM406.69 30.92h1.25v1.25h-1.25zM409.55 30.47h1.25v1.25h-1.25zM412.41 31.08h1.25v1.25h-1.25zM415.27 30.77h1.25v1.25h-1.25zM418.13 30.42h1.25v1.25h-1.25zM420.99 30.79h1.25v1.25h-1.25zM423.85 30.4h1.25v1.25h-1.25zM426.71 30.43h1.25v1.25h-1.25zM429.58 30.31h1.25v1.25h-1.25zM432.44 30.73h1.25v1.25h-1.25zM438.16 30.35h1.25v1.25h-1.25zM441.02 30.26h1.25v1.25h-1.25zM443.88 30.61h1.25v1.25h-1.25zM446.74 30.85h1.25v1.25h-1.25zM449.6 30.57h1.25v1.25h-1.25zM289.1 35.71h1.25v1.25h-1.25zM291.96 35.16h1.25v1.25h-1.25zM297.68 34.25h1.25v1.25h-1.25zM300.54 34.28h1.25v1.25h-1.25zM303.4 34.02h1.25v1.25h-1.25zM306.27 34.11h1.25v1.25h-1.25zM309.13 34.29h1.25v1.25h-1.25zM311.99 34h1.25v1.25h-1.25zM314.85 34.06h1.25v1.25h-1.25zM317.71 33.78h1.25v1.25h-1.25zM320.57 33.84h1.25v1.25h-1.25zM323.43 33.81h1.25v1.25h-1.25zM326.29 34.01h1.25v1.25h-1.25zM329.16 33.49h1.25v1.25h-1.25zM334.88 33.7h1.25v1.25h-1.25zM337.74 33.75h1.25v1.25h-1.25zM340.6 33.41h1.25v1.25h-1.25zM346.32 34.21h1.25v1.25h-1.25zM354.91 33.23h1.25v1.25h-1.25zM363.49 33.83h1.25v1.25h-1.25zM366.35 33.39h1.25v1.25h-1.25zM369.21 33.37h1.25v1.25h-1.25zM372.07 33.73h1.25v1.25h-1.25zM374.94 33.41h1.25v1.25h-1.25zM377.8 32.98h1.25v1.25h-1.25zM386.38 33.55h1.25v1.25h-1.25zM389.24 33.38h1.25v1.25h-1.25zM394.96 33.13h1.25v1.25h-1.25zM397.83 33.18h1.25v1.25h-1.25zM400.69 33.31h1.25v1.25h-1.25zM403.55 32.97h1.25v1.25h-1.25zM406.41 33.11h1.25v1.25h-1.25zM412.13 33.34h1.25v1.25h-1.25zM417.85 33.17h1.25v1.25h-1.25zM420.72 32.91h1.25v1.25h-1.25zM423.58 33.5h1.25v1.25h-1.25zM426.44 33.48h1.25v1.25h-1.25zM429.3 33.24h1.25v1.25h-1.25zM435.02 33.11h1.25v1.25h-1.25zM437.88 33.39h1.25v1.25h-1.25zM440.74 32.99h1.25v1.25h-1.25zM443.61 33.1h1.25v1.25h-1.25zM446.47 32.99h1.25v1.25h-1.25zM291.5 36.33h1.25v1.25h-1.25zM297.23 36.32h1.25v1.25h-1.25zM300.09 35.86h1.25v1.25h-1.25zM305.81 35.28h1.25v1.25h-1.25zM308.67 35.9h1.25v1.25h-1.25zM311.53 35.73h1.25v1.25h-1.25zM314.39 35.24h1.25v1.25h-1.25zM317.26 35.42h1.25v1.25h-1.25zM320.12 35.25h1.25v1.25h-1.25zM328.7 34.97h1.25v1.25h-1.25zM334.42 35.36h1.25v1.25h-1.25zM340.15 34.95h1.25v1.25h-1.25zM345.87 35.45h1.25v1.25h-1.25zM348.73 35.43h1.25v1.25h-1.25zM351.59 35.16h1.25v1.25h-1.25zM354.45 34.83h1.25v1.25h-1.25zM357.31 35h1.25v1.25h-1.25zM360.17 34.55h1.25v1.25h-1.25zM363.04 35.4h1.25v1.25h-1.25zM365.9 35.05h1.25v1.25h-1.25zM371.62 34.86h1.25v1.25h-1.25zM385.93 34.6h1.25v1.25h-1.25zM388.79 34.92h1.25v1.25h-1.25zM394.51 34.92h1.25v1.25h-1.25zM400.23 34.82h1.25v1.25h-1.25zM403.09 34.78h1.25v1.25h-1.25zM405.95 34.7h1.25v1.25h-1.25zM408.82 34.85h1.25v1.25h-1.25zM411.68 34.8h1.25v1.25h-1.25zM417.4 34.66h1.25v1.25h-1.25zM423.12 34.73h1.25v1.25h-1.25zM425.98 34.48h1.25v1.25h-1.25zM428.84 34.61h1.25v1.25h-1.25zM431.71 34.63h1.25v1.25h-1.25zM437.43 34.5h1.25v1.25h-1.25zM440.29 34.52h1.25v1.25h-1.25zM443.15 34.68h1.25v1.25h-1.25zM446.01 34.83h1.25v1.25h-1.25zM448.87 34.58h1.25v1.25h-1.25zM288.48 45.61h1.25v1.25h-1.25zM291.34 43.82h1.25v1.25h-1.25zM294.21 43.75h1.25v1.25h-1.25zM299.93 43.82h1.25v1.25h-1.25zM302.79 43.01h1.25v1.25h-1.25zM308.51 43.15h1.25v1.25h-1.25zM314.23 43.2h1.25v1.25h-1.25zM319.96 42.92h1.25v1.25h-1.25zM322.82 42.93h1.25v1.25h-1.25zM325.68 42.91h1.25v1.25h-1.25zM331.4 42.76h1.25v1.25h-1.25zM337.12 42.67h1.25v1.25h-1.25zM342.85 42.67h1.25v1.25h-1.25zM345.71 42.82h1.25v1.25h-1.25zM354.29 42.42h1.25v1.25h-1.25zM357.15 42.73h1.25v1.25h-1.25zM360.01 42.45h1.25v1.25h-1.25zM362.88 42.3h1.25v1.25h-1.25zM365.74 42.45h1.25v1.25h-1.25zM368.6 42.38h1.25v1.25h-1.25zM371.46 42.57h1.25v1.25h-1.25zM374.32 42.78h1.25v1.25h-1.25zM377.18 42.36h1.25v1.25h-1.25zM380.04 42.43h1.25v1.25h-1.25zM382.9 42.32h1.25v1.25h-1.25zM385.77 42.49h1.25v1.25h-1.25zM388.63 42.28h1.25v1.25h-1.25zM394.35 42.49h1.25v1.25h-1.25zM400.07 42.28h1.25v1.25h-1.25zM402.93 42.34h1.25v1.25h-1.25zM405.79 41.79h1.25v1.25h-1.25zM411.52 41.95h1.25v1.25h-1.25zM414.38 42.18h1.25v1.25h-1.25zM417.24 42.5h1.25v1.25h-1.25zM420.1 42.44h1.25v1.25h-1.25zM422.96 42.05h1.25v1.25h-1.25zM425.82 41.72h1.25v1.25h-1.25zM428.68 42.35h1.25v1.25h-1.25zM431.55 42.08h1.25v1.25h-1.25zM434.41 42.05h1.25v1.25h-1.25zM437.27 41.96h1.25v1.25h-1.25zM440.13 42.1h1.25v1.25h-1.25zM445.85 42.17h1.25v1.25h-1.25zM448.71 41.94h1.25v1.25h-1.25zM288.44 55.05h1.25v1.25h-1.25zM291.3 53.3h1.25v1.25h-1.25zM294.16 52.39h1.25v1.25h-1.25zM297.02 52.44h1.25v1.25h-1.25zM299.88 52.43h1.25v1.25h-1.25zM302.74 51.8h1.25v1.25h-1.25zM305.61 51.68h1.25v1.25h-1.25zM308.47 51.75h1.25v1.25h-1.25zM311.33 51.84h1.25v1.25h-1.25zM314.19 51.7h1.25v1.25h-1.25zM317.05 51.44h1.25v1.25h-1.25zM319.91 51.13h1.25v1.25h-1.25zM322.77 51.2h1.25v1.25h-1.25zM334.22 50.88h1.25v1.25h-1.25zM339.94 51.06h1.25v1.25h-1.25zM345.66 50.77h1.25v1.25h-1.25zM348.52 50.63h1.25v1.25h-1.25zM351.39 51.01h1.25v1.25h-1.25zM354.25 50.84h1.25v1.25h-1.25zM355.41 53.7h1.25v1.25h-1.25zM358.27 53.54h1.25v1.25h-1.25zM361.14 53.91h1.25v1.25h-1.25zM366.86 54.08h1.25v1.25h-1.25zM369.72 53.56h1.25v1.25h-1.25zM372.58 53.61h1.25v1.25h-1.25zM375.44 53.4h1.25v1.25h-1.25zM378.3 53.85h1.25v1.25h-1.25zM381.16 53.49h1.25v1.25h-1.25zM384.03 53.77h1.25v1.25h-1.25zM386.89 53.54h1.25v1.25h-1.25zM389.75 53.76h1.25v1.25h-1.25zM392.61 53.39h1.25v1.25h-1.25zM395.47 53.84h1.25v1.25h-1.25zM398.33 53.38h1.25v1.25h-1.25zM406.92 53.32h1.25v1.25h-1.25zM409.78 53.25h1.25v1.25h-1.25zM412.64 53.74h1.25v1.25h-1.25zM415.5 53.44h1.25v1.25h-1.25zM421.22 53.59h1.25v1.25h-1.25zM424.08 53.4h1.25v1.25h-1.25zM426.94 53.34h1.25v1.25h-1.25zM429.81 53.04h1.25v1.25h-1.25zM432.67 52.97h1.25v1.25h-1.25zM435.53 53.22h1.25v1.25h-1.25zM438.39 53.08h1.25v1.25h-1.25zM441.25 53.12h1.25v1.25h-1.25zM444.11 53.12h1.25v1.25h-1.25zM446.97 53.18h1.25v1.25h-1.25zM289.08 60.94h1.25v1.25h-1.25zM291.94 60.14h1.25v1.25h-1.25zM294.81 59.81h1.25v1.25h-1.25zM297.67 60.04h1.25v1.25h-1.25zM303.39 59.69h1.25v1.25h-1.25zM306.25 60.06h1.25v1.25h-1.25zM311.97 59.82h1.25v1.25h-1.25zM314.83 59.34h1.25v1.25h-1.25zM320.56 59.32h1.25v1.25h-1.25zM329.14 59.17h1.25v1.25h-1.25zM332 59.13h1.25v1.25h-1.25zM334.86 59.26h1.25v1.25h-1.25zM337.72 59.23h1.25v1.25h-1.25zM343.45 59.52h1.25v1.25h-1.25zM346.31 59.36h1.25v1.25h-1.25zM352.03 58.92h1.25v1.25h-1.25zM354.89 59.16h1.25v1.25h-1.25zM357.75 58.46h1.25v1.25h-1.25zM360.61 58.98h1.25v1.25h-1.25zM363.48 59.19h1.25v1.25h-1.25zM369.2 59.17h1.25v1.25h-1.25zM372.06 59.13h1.25v1.25h-1.25zM380.64 59.04h1.25v1.25h-1.25zM383.5 58.83h1.25v1.25h-1.25zM389.23 59.11h1.25v1.25h-1.25zM392.09 58.8h1.25v1.25h-1.25zM394.95 58.86h1.25v1.25h-1.25zM397.81 59.34h1.25v1.25h-1.25zM400.67 59.07h1.25v1.25h-1.25zM403.53 58.66h1.25v1.25h-1.25zM409.26 59.25h1.25v1.25h-1.25zM412.12 58.72h1.25v1.25h-1.25zM414.98 58.95h1.25v1.25h-1.25zM417.84 58.71h1.25v1.25h-1.25zM420.7 58.37h1.25v1.25h-1.25zM423.56 58.86h1.25v1.25h-1.25zM426.42 58.81h1.25v1.25h-1.25zM429.28 58.69h1.25v1.25h-1.25zM432.15 58.47h1.25v1.25h-1.25zM437.87 58.73h1.25v1.25h-1.25zM440.73 58.9h1.25v1.25h-1.25zM443.59 58.7h1.25v1.25h-1.25zM446.45 58.75h1.25v1.25h-1.25zM289.44 73.88h1.25v1.25h-1.25zM292.31 73.36h1.25v1.25h-1.25zM295.17 73.32h1.25v1.25h-1.25zM298.03 73.38h1.25v1.25h-1.25zM303.75 72.93h1.25v1.25h-1.25zM306.61 72.81h1.25v1.25h-1.25zM309.47 73h1.25v1.25h-1.25zM312.33 72.97h1.25v1.25h-1.25zM315.2 72.88h1.25v1.25h-1.25zM318.06 72.9h1.25v1.25h-1.25zM320.92 72.85h1.25v1.25h-1.25zM323.78 72.65h1.25v1.25h-1.25zM329.5 72.85h1.25v1.25h-1.25zM332.36 72.59h1.25v1.25h-1.25zM335.22 73.02h1.25v1.25h-1.25zM338.09 72.58h1.25v1.25h-1.25zM340.95 72.83h1.25v1.25h-1.25zM343.81 72.71h1.25v1.25h-1.25zM346.67 72.69h1.25v1.25h-1.25zM349.53 72.53h1.25v1.25h-1.25zM352.39 72.29h1.25v1.25h-1.25zM360.98 72.55h1.25v1.25h-1.25zM366.7 72.25h1.25v1.25h-1.25zM369.56 72.34h1.25v1.25h-1.25zM372.42 72.56h1.25v1.25h-1.25zM378.14 72.34h1.25v1.25h-1.25zM381 72.21h1.25v1.25h-1.25zM383.87 72.42h1.25v1.25h-1.25zM389.59 72.33h1.25v1.25h-1.25zM392.45 72.37h1.25v1.25h-1.25zM395.31 72.19h1.25v1.25h-1.25zM398.17 72.47h1.25v1.25h-1.25zM401.03 72.3h1.25v1.25h-1.25zM403.89 72.68h1.25v1.25h-1.25zM406.76 72.32h1.25v1.25h-1.25zM409.62 72.36h1.25v1.25h-1.25zM418.2 72.3h1.25v1.25h-1.25zM426.78 72.49h1.25v1.25h-1.25zM429.65 71.93h1.25v1.25h-1.25zM432.51 72.08h1.25v1.25h-1.25zM438.23 72.03h1.25v1.25h-1.25zM443.95 72.03h1.25v1.25h-1.25zM446.81 72.13h1.25v1.25h-1.25zM289.4 113.58h1.25v1.25h-1.25zM295.12 113.41h1.25v1.25h-1.25zM297.98 113.29h1.25v1.25h-1.25zM300.84 113.46h1.25v1.25h-1.25zM303.7 113.56h1.25v1.25h-1.25zM306.56 113.75h1.25v1.25h-1.25zM309.43 113.34h1.25v1.25h-1.25zM315.15 113.32h1.25v1.25h-1.25zM318.01 113.26h1.25v1.25h-1.25zM323.73 113.48h1.25v1.25h-1.25zM326.59 113.42h1.25v1.25h-1.25zM329.45 113.46h1.25v1.25h-1.25zM332.32 113.73h1.25v1.25h-1.25zM338.04 113.43h1.25v1.25h-1.25zM340.9 113.36h1.25v1.25h-1.25zM346.62 113.4h1.25v1.25h-1.25zM349.48 113.19h1.25v1.25h-1.25zM352.34 113.26h1.25v1.25h-1.25zM355.21 113.45h1.25v1.25h-1.25zM360.93 113.87h1.25v1.25h-1.25zM363.79 113.29h1.25v1.25h-1.25zM366.65 113.79h1.25v1.25h-1.25zM369.51 113.62h1.25v1.25h-1.25zM372.37 113.73h1.25v1.25h-1.25zM378.1 113.1h1.25v1.25h-1.25zM383.82 113.58h1.25v1.25h-1.25zM386.68 113.58h1.25v1.25h-1.25zM392.4 113.37h1.25v1.25h-1.25zM398.12 113.5h1.25v1.25h-1.25zM400.99 113.49h1.25v1.25h-1.25zM403.85 113.75h1.25v1.25h-1.25zM406.71 113.64h1.25v1.25h-1.25zM409.57 113.65h1.25v1.25h-1.25zM415.29 113.45h1.25v1.25h-1.25zM418.15 113.47h1.25v1.25h-1.25zM421.01 113.15h1.25v1.25h-1.25zM423.88 113.14h1.25v1.25h-1.25zM429.6 113.58h1.25v1.25h-1.25zM435.32 113.33h1.25v1.25h-1.25zM441.04 113.1h1.25v1.25h-1.25zM443.9 113.63h1.25v1.25h-1.25zM449.63 113.56h1.25v1.25h-1.25zM299.8 64h1.4v1.4h-1.4zM320.4 63.1h1.4v1.4h-1.4zM358 62.3h1.4v1.4h-1.4zM361.6 62.3h1.4v1.4h-1.4zM416.1 63.1h1.4v1.4h-1.4zM419.3 62.3h1.4v1.4h-1.4zM327.5 118.8h1.4v1.4h-1.4zM361.3 116.9h1.4v1.4h-1.4zM364.7 119.1h1.4v1.4h-1.4zM375.3 117.6h1.4v1.4h-1.4zM402.3 115.6h1.4v1.4h-1.4zM293.3 115.6h1.4v1.4h-1.4z" fill="#0a0af5"/>
</g>
<path d="M286.9 17v4.9M286.9 135.9v-4.9M355.02 17v4.9M355.02 135.9v-4.9M423.15 17v4.9M423.15 135.9v-4.9M286.9 136h4.9M450.4 136h-4.9M286.9 121.22h2.8M450.4 121.22h-2.8M286.9 112.57h2.8M450.4 112.57h-2.8M286.9 106.44h2.8M450.4 106.44h-2.8M286.9 101.68h2.8M450.4 101.68h-2.8M286.9 97.79h2.8M450.4 97.79h-2.8M286.9 94.51h2.8M450.4 94.51h-2.8M286.9 91.66h2.8M450.4 91.66h-2.8M286.9 89.15h2.8M450.4 89.15h-2.8M286.9 86.9h4.9M450.4 86.9h-4.9M286.9 72.12h2.8M450.4 72.12h-2.8M286.9 63.47h2.8M450.4 63.47h-2.8M286.9 57.34h2.8M450.4 57.34h-2.8M286.9 52.58h2.8M450.4 52.58h-2.8M286.9 48.69h2.8M450.4 48.69h-2.8M286.9 45.41h2.8M450.4 45.41h-2.8M286.9 42.56h2.8M450.4 42.56h-2.8M286.9 40.05h2.8M450.4 40.05h-2.8M286.9 37.8h4.9M450.4 37.8h-4.9M286.9 23.02h2.8M450.4 23.02h-2.8" stroke="#000" stroke-width="1" fill="none"/>
<rect x="286.9" y="17" width="163.5" height="118.9" fill="none" stroke="#000" stroke-width="1.1"/>
<text x="286.9" y="151.4" font-size="14.4" text-anchor="middle" textLength="8.2" lengthAdjust="spacingAndGlyphs" fill="#000">0</text>
<text x="355.02" y="151.4" font-size="14.4" text-anchor="middle" textLength="17" lengthAdjust="spacingAndGlyphs" letter-spacing="0.6" fill="#000">10</text>
<text x="423.15" y="151.4" font-size="14.4" text-anchor="middle" textLength="17" lengthAdjust="spacingAndGlyphs" letter-spacing="0.6" fill="#000">20</text>
<text x="274.3" y="141.3" font-size="14.4" text-anchor="end" textLength="16.2" lengthAdjust="spacingAndGlyphs" letter-spacing="0.6" fill="#000">10</text>
<text x="276" y="136.5" font-size="10.4" textLength="5.6" lengthAdjust="spacingAndGlyphs" fill="#000">5</text>
<text x="274.3" y="92.2" font-size="14.4" text-anchor="end" textLength="16.2" lengthAdjust="spacingAndGlyphs" letter-spacing="0.6" fill="#000">10</text>
<text x="276" y="87.4" font-size="10.4" textLength="5.6" lengthAdjust="spacingAndGlyphs" fill="#000">6</text>
<text x="274.3" y="43.1" font-size="14.4" text-anchor="end" textLength="16.2" lengthAdjust="spacingAndGlyphs" letter-spacing="0.6" fill="#000">10</text>
<text x="276" y="38.3" font-size="10.4" textLength="5.6" lengthAdjust="spacingAndGlyphs" fill="#000">7</text>
<text x="265.3" y="11.2" font-size="12.5" fill="#000">b)</text>
<text x="409.8" y="102.8" font-size="11.9" textLength="24.2" lengthAdjust="spacingAndGlyphs" letter-spacing="0.6" fill="#000">77 K</text>
<clipPath id="clipc"><rect x="518.3" y="17.4" width="163.3" height="118.4"/></clipPath>
<path d="M586.34 17.4V135.8M654.38 17.4V135.8M518.3 133.2H681.6M518.3 86.3H681.6M518.3 39.4H681.6" stroke="#b0b0b0" stroke-width="1" fill="none"/>
<g clip-path="url(#clipc)">
<path d="M519.6 40 L519.52 29.14 L519.58 29.02 L519.63 28.9 L519.68 28.78 L519.74 28.67 L519.8 28.55 L519.86 28.43 L519.93 28.31 L520 28.2 L520.07 28.08 L520.14 27.97 L520.22 27.85 L520.3 27.74 L520.38 27.63 L520.47 27.52 L520.56 27.42 L520.65 27.31 L520.75 27.21 L520.85 27.11 L520.96 27.01 L521.07 26.92 L521.18 26.83 L521.3 26.74 L521.43 26.65 L521.56 26.57 L521.69 26.49 L521.84 26.41 L521.98 26.34 L522.14 26.26 L522.3 26.2 L522.46 26.13 L522.64 26.07 L522.82 26.01 L523 25.95 L523.2 25.9 L523.4 25.85 L523.62 25.8 L523.84 25.75 L524.07 25.71 L524.31 25.67 L524.56 25.63 L524.82 25.59 L525.09 25.55 L525.37 25.51 L525.67 25.48 L525.97 25.45 L526.29 25.41 L526.62 25.38 L526.97 25.35 L527.33 25.32 L527.71 25.29 L528.1 25.26 L528.51 25.23 L528.93 25.2 L529.37 25.17 L529.83 25.14 L530.31 25.11 L530.81 25.09 L531.33 25.06 L531.88 25.03 L532.44 25 L533.03 24.97 L533.64 24.94 L534.28 24.92 L534.95 24.89 L535.64 24.86 L536.36 24.83 L537.11 24.8 L537.9 24.77 L538.71 24.74 L539.56 24.72 L540.45 24.69 L541.37 24.66 L542.33 24.63 L543.33 24.6 L544.37 24.57 L545.45 24.55 L546.58 24.52 L547.76 24.49 L548.99 24.46 L550.26 24.43 L551.6 24.4 L552.98 24.38 L554.42 24.35 L555.93 24.32 L557.49 24.29 L559.12 24.26 L560.82 24.23 L562.59 24.21 L564.44 24.18 L566.36 24.15 L568.36 24.12 L570.44 24.09 L572.61 24.06 L574.87 24.04 L577.22 24.01 L579.68 23.98 L582.23 23.95 L584.89 23.92 L587.66 23.89 L590.55 23.87 L593.56 23.84 L596.69 23.81 L599.95 23.78 L603.35 23.75 L606.89 23.72 L610.57 23.7 L614.41 23.67 L618.41 23.64 L622.58 23.61 L626.92 23.58 L631.44 23.55 L636.15 23.53 L641.05 23.5 L646.16 23.47 L651.48 23.44 L657.03 23.41 L662.8 23.38 L668.81 23.36 L675.08 23.33 L681.6 23.3" stroke="#ff1a12" stroke-width="2" fill="none" stroke-linejoin="round"/>
<path d="M519.6 42 L519.52 36.83 L519.58 36.71 L519.63 36.59 L519.68 36.48 L519.74 36.36 L519.8 36.24 L519.86 36.13 L519.93 36.01 L520 35.9 L520.07 35.79 L520.14 35.67 L520.22 35.56 L520.3 35.45 L520.38 35.34 L520.47 35.24 L520.56 35.13 L520.65 35.03 L520.75 34.93 L520.85 34.83 L520.96 34.73 L521.07 34.64 L521.18 34.55 L521.3 34.46 L521.43 34.38 L521.56 34.3 L521.69 34.22 L521.84 34.14 L521.98 34.07 L522.14 34 L522.3 33.94 L522.46 33.87 L522.64 33.81 L522.82 33.75 L523 33.7 L523.2 33.65 L523.4 33.6 L523.62 33.55 L523.84 33.51 L524.07 33.46 L524.31 33.42 L524.56 33.39 L524.82 33.35 L525.09 33.31 L525.37 33.28 L525.67 33.25 L525.97 33.21 L526.29 33.18 L526.62 33.15 L526.97 33.12 L527.33 33.09 L527.71 33.07 L528.1 33.04 L528.51 33.01 L528.93 32.98 L529.37 32.95 L529.83 32.93 L530.31 32.9 L530.81 32.87 L531.33 32.85 L531.88 32.82 L532.44 32.79 L533.03 32.77 L533.64 32.74 L534.28 32.71 L534.95 32.69 L535.64 32.66 L536.36 32.63 L537.11 32.61 L537.9 32.58 L538.71 32.55 L539.56 32.53 L540.45 32.5 L541.37 32.47 L542.33 32.45 L543.33 32.42 L544.37 32.4 L545.45 32.37 L546.58 32.34 L547.76 32.32 L548.99 32.29 L550.26 32.26 L551.6 32.24 L552.98 32.21 L554.42 32.18 L555.93 32.16 L557.49 32.13 L559.12 32.1 L560.82 32.08 L562.59 32.05 L564.44 32.02 L566.36 32 L568.36 31.97 L570.44 31.94 L572.61 31.92 L574.87 31.89 L577.22 31.86 L579.68 31.84 L582.23 31.81 L584.89 31.78 L587.66 31.76 L590.55 31.73 L593.56 31.7 L596.69 31.68 L599.95 31.65 L603.35 31.62 L606.89 31.6 L610.57 31.57 L614.41 31.55 L618.41 31.52 L622.58 31.49 L626.92 31.47 L631.44 31.44 L636.15 31.41 L641.05 31.39 L646.16 31.36 L651.48 31.33 L657.03 31.31 L662.8 31.28 L668.81 31.25 L675.08 31.23 L681.6 31.2" stroke="#ff1a12" stroke-width="2" fill="none" stroke-linejoin="round"/>
<path d="M519.6 50 L519.52 48.34 L519.58 48.24 L519.63 48.13 L519.68 48.03 L519.74 47.92 L519.8 47.82 L519.86 47.72 L519.93 47.61 L520 47.51 L520.07 47.41 L520.14 47.31 L520.22 47.21 L520.3 47.11 L520.38 47.02 L520.47 46.92 L520.56 46.83 L520.65 46.74 L520.75 46.65 L520.85 46.57 L520.96 46.48 L521.07 46.4 L521.18 46.32 L521.3 46.25 L521.43 46.18 L521.56 46.11 L521.69 46.04 L521.84 45.98 L521.98 45.92 L522.14 45.86 L522.3 45.81 L522.46 45.76 L522.64 45.71 L522.82 45.66 L523 45.62 L523.2 45.58 L523.4 45.55 L523.62 45.51 L523.84 45.48 L524.07 45.45 L524.31 45.42 L524.56 45.39 L524.82 45.37 L525.09 45.35 L525.37 45.32 L525.67 45.3 L525.97 45.28 L526.29 45.27 L526.62 45.25 L526.97 45.23 L527.33 45.21 L527.71 45.2 L528.1 45.18 L528.51 45.17 L528.93 45.15 L529.37 45.14 L529.83 45.12 L530.31 45.11 L530.81 45.09 L531.33 45.08 L531.88 45.06 L532.44 45.05 L533.03 45.04 L533.64 45.02 L534.28 45.01 L534.95 44.99 L535.64 44.98 L536.36 44.96 L537.11 44.95 L537.9 44.94 L538.71 44.92 L539.56 44.91 L540.45 44.89 L541.37 44.88 L542.33 44.87 L543.33 44.85 L544.37 44.84 L545.45 44.82 L546.58 44.81 L547.76 44.79 L548.99 44.78 L550.26 44.77 L551.6 44.75 L552.98 44.74 L554.42 44.72 L555.93 44.71 L557.49 44.7 L559.12 44.68 L560.82 44.67 L562.59 44.65 L564.44 44.64 L566.36 44.62 L568.36 44.61 L570.44 44.6 L572.61 44.58 L574.87 44.57 L577.22 44.55 L579.68 44.54 L582.23 44.53 L584.89 44.51 L587.66 44.5 L590.55 44.48 L593.56 44.47 L596.69 44.45 L599.95 44.44 L603.35 44.43 L606.89 44.41 L610.57 44.4 L614.41 44.38 L618.41 44.37 L622.58 44.36 L626.92 44.34 L631.44 44.33 L636.15 44.31 L641.05 44.3 L646.16 44.28 L651.48 44.27 L657.03 44.26 L662.8 44.24 L668.81 44.23 L675.08 44.21 L681.6 44.2" stroke="#ff1a12" stroke-width="2" fill="none" stroke-linejoin="round"/>
<path d="M519.6 60 L519.52 56.11 L519.58 56.02 L519.63 55.94 L519.68 55.85 L519.74 55.77 L519.8 55.68 L519.86 55.6 L519.93 55.51 L520 55.43 L520.07 55.34 L520.14 55.26 L520.22 55.18 L520.3 55.1 L520.38 55.02 L520.47 54.94 L520.56 54.87 L520.65 54.79 L520.75 54.72 L520.85 54.65 L520.96 54.58 L521.07 54.52 L521.18 54.45 L521.3 54.39 L521.43 54.33 L521.56 54.28 L521.69 54.22 L521.84 54.17 L521.98 54.12 L522.14 54.08 L522.3 54.03 L522.46 53.99 L522.64 53.95 L522.82 53.92 L523 53.88 L523.2 53.85 L523.4 53.82 L523.62 53.79 L523.84 53.77 L524.07 53.74 L524.31 53.72 L524.56 53.7 L524.82 53.68 L525.09 53.66 L525.37 53.65 L525.67 53.63 L525.97 53.61 L526.29 53.6 L526.62 53.59 L526.97 53.57 L527.33 53.56 L527.71 53.55 L528.1 53.54 L528.51 53.53 L528.93 53.51 L529.37 53.5 L529.83 53.49 L530.31 53.48 L530.81 53.47 L531.33 53.46 L531.88 53.45 L532.44 53.44 L533.03 53.43 L533.64 53.42 L534.28 53.41 L534.95 53.4 L535.64 53.38 L536.36 53.37 L537.11 53.36 L537.9 53.35 L538.71 53.34 L539.56 53.33 L540.45 53.32 L541.37 53.31 L542.33 53.3 L543.33 53.29 L544.37 53.28 L545.45 53.27 L546.58 53.26 L547.76 53.25 L548.99 53.24 L550.26 53.22 L551.6 53.21 L552.98 53.2 L554.42 53.19 L555.93 53.18 L557.49 53.17 L559.12 53.16 L560.82 53.15 L562.59 53.14 L564.44 53.13 L566.36 53.12 L568.36 53.11 L570.44 53.1 L572.61 53.09 L574.87 53.08 L577.22 53.07 L579.68 53.05 L582.23 53.04 L584.89 53.03 L587.66 53.02 L590.55 53.01 L593.56 53 L596.69 52.99 L599.95 52.98 L603.35 52.97 L606.89 52.96 L610.57 52.95 L614.41 52.94 L618.41 52.93 L622.58 52.92 L626.92 52.91 L631.44 52.9 L636.15 52.88 L641.05 52.87 L646.16 52.86 L651.48 52.85 L657.03 52.84 L662.8 52.83 L668.81 52.82 L675.08 52.81 L681.6 52.8" stroke="#ff1a12" stroke-width="2" fill="none" stroke-linejoin="round"/>
<path d="M519.6 62 L519.52 57.41 L519.58 57.32 L519.63 57.24 L519.68 57.15 L519.74 57.07 L519.8 56.98 L519.86 56.9 L519.93 56.81 L520 56.73 L520.07 56.64 L520.14 56.56 L520.22 56.48 L520.3 56.4 L520.38 56.32 L520.47 56.24 L520.56 56.17 L520.65 56.09 L520.75 56.02 L520.85 55.95 L520.96 55.88 L521.07 55.82 L521.18 55.75 L521.3 55.69 L521.43 55.63 L521.56 55.58 L521.69 55.52 L521.84 55.47 L521.98 55.42 L522.14 55.38 L522.3 55.33 L522.46 55.29 L522.64 55.25 L522.82 55.22 L523 55.18 L523.2 55.15 L523.4 55.12 L523.62 55.09 L523.84 55.07 L524.07 55.04 L524.31 55.02 L524.56 55 L524.82 54.98 L525.09 54.96 L525.37 54.95 L525.67 54.93 L525.97 54.91 L526.29 54.9 L526.62 54.89 L526.97 54.87 L527.33 54.86 L527.71 54.85 L528.1 54.84 L528.51 54.83 L528.93 54.81 L529.37 54.8 L529.83 54.79 L530.31 54.78 L530.81 54.77 L531.33 54.76 L531.88 54.75 L532.44 54.74 L533.03 54.73 L533.64 54.72 L534.28 54.71 L534.95 54.7 L535.64 54.68 L536.36 54.67 L537.11 54.66 L537.9 54.65 L538.71 54.64 L539.56 54.63 L540.45 54.62 L541.37 54.61 L542.33 54.6 L543.33 54.59 L544.37 54.58 L545.45 54.57 L546.58 54.56 L547.76 54.55 L548.99 54.54 L550.26 54.52 L551.6 54.51 L552.98 54.5 L554.42 54.49 L555.93 54.48 L557.49 54.47 L559.12 54.46 L560.82 54.45 L562.59 54.44 L564.44 54.43 L566.36 54.42 L568.36 54.41 L570.44 54.4 L572.61 54.39 L574.87 54.38 L577.22 54.37 L579.68 54.35 L582.23 54.34 L584.89 54.33 L587.66 54.32 L590.55 54.31 L593.56 54.3 L596.69 54.29 L599.95 54.28 L603.35 54.27 L606.89 54.26 L610.57 54.25 L614.41 54.24 L618.41 54.23 L622.58 54.22 L626.92 54.21 L631.44 54.2 L636.15 54.18 L641.05 54.17 L646.16 54.16 L651.48 54.15 L657.03 54.14 L662.8 54.13 L668.81 54.12 L675.08 54.11 L681.6 54.1" stroke="#ff1a12" stroke-width="2" fill="none" stroke-linejoin="round"/>
<path d="M519.6 64 L519.52 60.11 L519.58 60.02 L519.63 59.94 L519.68 59.85 L519.74 59.77 L519.8 59.68 L519.86 59.6 L519.93 59.51 L520 59.43 L520.07 59.34 L520.14 59.26 L520.22 59.18 L520.3 59.1 L520.38 59.02 L520.47 58.94 L520.56 58.87 L520.65 58.79 L520.75 58.72 L520.85 58.65 L520.96 58.58 L521.07 58.52 L521.18 58.45 L521.3 58.39 L521.43 58.33 L521.56 58.28 L521.69 58.22 L521.84 58.17 L521.98 58.12 L522.14 58.08 L522.3 58.03 L522.46 57.99 L522.64 57.95 L522.82 57.92 L523 57.88 L523.2 57.85 L523.4 57.82 L523.62 57.79 L523.84 57.77 L524.07 57.74 L524.31 57.72 L524.56 57.7 L524.82 57.68 L525.09 57.66 L525.37 57.65 L525.67 57.63 L525.97 57.61 L526.29 57.6 L526.62 57.59 L526.97 57.57 L527.33 57.56 L527.71 57.55 L528.1 57.54 L528.51 57.53 L528.93 57.51 L529.37 57.5 L529.83 57.49 L530.31 57.48 L530.81 57.47 L531.33 57.46 L531.88 57.45 L532.44 57.44 L533.03 57.43 L533.64 57.42 L534.28 57.41 L534.95 57.4 L535.64 57.38 L536.36 57.37 L537.11 57.36 L537.9 57.35 L538.71 57.34 L539.56 57.33 L540.45 57.32 L541.37 57.31 L542.33 57.3 L543.33 57.29 L544.37 57.28 L545.45 57.27 L546.58 57.26 L547.76 57.25 L548.99 57.24 L550.26 57.22 L551.6 57.21 L552.98 57.2 L554.42 57.19 L555.93 57.18 L557.49 57.17 L559.12 57.16 L560.82 57.15 L562.59 57.14 L564.44 57.13 L566.36 57.12 L568.36 57.11 L570.44 57.1 L572.61 57.09 L574.87 57.08 L577.22 57.07 L579.68 57.05 L582.23 57.04 L584.89 57.03 L587.66 57.02 L590.55 57.01 L593.56 57 L596.69 56.99 L599.95 56.98 L603.35 56.97 L606.89 56.96 L610.57 56.95 L614.41 56.94 L618.41 56.93 L622.58 56.92 L626.92 56.91 L631.44 56.9 L636.15 56.88 L641.05 56.87 L646.16 56.86 L651.48 56.85 L657.03 56.84 L662.8 56.83 L668.81 56.82 L675.08 56.81 L681.6 56.8" stroke="#ff1a12" stroke-width="2" fill="none" stroke-linejoin="round"/>
<path d="M519.6 66 L519.52 64.6 L519.58 64.51 L519.63 64.43 L519.68 64.34 L519.74 64.26 L519.8 64.18 L519.86 64.09 L519.93 64.01 L520 63.93 L520.07 63.85 L520.14 63.77 L520.22 63.69 L520.3 63.61 L520.38 63.53 L520.47 63.46 L520.56 63.38 L520.65 63.31 L520.75 63.24 L520.85 63.17 L520.96 63.1 L521.07 63.04 L521.18 62.98 L521.3 62.92 L521.43 62.86 L521.56 62.81 L521.69 62.75 L521.84 62.7 L521.98 62.66 L522.14 62.61 L522.3 62.57 L522.46 62.53 L522.64 62.49 L522.82 62.46 L523 62.43 L523.2 62.4 L523.4 62.37 L523.62 62.34 L523.84 62.32 L524.07 62.3 L524.31 62.28 L524.56 62.26 L524.82 62.24 L525.09 62.22 L525.37 62.21 L525.67 62.2 L525.97 62.18 L526.29 62.17 L526.62 62.16 L526.97 62.15 L527.33 62.14 L527.71 62.12 L528.1 62.11 L528.51 62.1 L528.93 62.1 L529.37 62.09 L529.83 62.08 L530.31 62.07 L530.81 62.06 L531.33 62.05 L531.88 62.04 L532.44 62.03 L533.03 62.02 L533.64 62.01 L534.28 62 L534.95 62 L535.64 61.99 L536.36 61.98 L537.11 61.97 L537.9 61.96 L538.71 61.95 L539.56 61.94 L540.45 61.93 L541.37 61.92 L542.33 61.92 L543.33 61.91 L544.37 61.9 L545.45 61.89 L546.58 61.88 L547.76 61.87 L548.99 61.86 L550.26 61.85 L551.6 61.85 L552.98 61.84 L554.42 61.83 L555.93 61.82 L557.49 61.81 L559.12 61.8 L560.82 61.79 L562.59 61.78 L564.44 61.77 L566.36 61.77 L568.36 61.76 L570.44 61.75 L572.61 61.74 L574.87 61.73 L577.22 61.72 L579.68 61.71 L582.23 61.7 L584.89 61.69 L587.66 61.69 L590.55 61.68 L593.56 61.67 L596.69 61.66 L599.95 61.65 L603.35 61.64 L606.89 61.63 L610.57 61.62 L614.41 61.62 L618.41 61.61 L622.58 61.6 L626.92 61.59 L631.44 61.58 L636.15 61.57 L641.05 61.56 L646.16 61.55 L651.48 61.54 L657.03 61.54 L662.8 61.53 L668.81 61.52 L675.08 61.51 L681.6 61.5" stroke="#ff1a12" stroke-width="2" fill="none" stroke-linejoin="round"/>
<path d="M519.52 111 L519.58 111 L519.63 111 L519.68 111 L519.74 111 L519.8 111 L519.86 111 L519.93 111 L520 111 L520.07 111 L520.14 111 L520.22 111 L520.3 111 L520.38 111 L520.47 111 L520.56 111 L520.65 111 L520.75 111 L520.85 111 L520.96 111 L521.07 111 L521.18 111 L521.3 111 L521.43 111 L521.56 111 L521.69 111 L521.84 111 L521.98 111 L522.14 111 L522.3 111 L522.46 111 L522.64 111 L522.82 111 L523 111 L523.2 111 L523.4 111 L523.62 111 L523.84 111 L524.07 111 L524.31 111 L524.56 111 L524.82 111 L525.09 111 L525.37 111 L525.67 111 L525.97 111 L526.29 111 L526.62 111 L526.97 111 L527.33 111 L527.71 111 L528.1 111 L528.51 111 L528.93 111 L529.37 111 L529.83 111 L530.31 111 L530.81 111 L531.33 111 L531.88 111 L532.44 111 L533.03 111 L533.64 111 L534.28 111 L534.95 111 L535.64 111 L536.36 111 L537.11 111 L537.9 111 L538.71 111 L539.56 111 L540.45 111 L541.37 111 L542.33 111 L543.33 111 L544.37 111 L545.45 111 L546.58 111 L547.76 111 L548.99 111 L550.26 111 L551.6 111 L552.98 111 L554.42 111 L555.93 111 L557.49 111 L559.12 111 L560.82 111 L562.59 111 L564.44 111 L566.36 111 L568.36 111 L570.44 111 L572.61 111 L574.87 111 L577.22 111 L579.68 111 L582.23 111 L584.89 111 L587.66 111 L590.55 111 L593.56 111 L596.69 111 L599.95 111 L603.35 111 L606.89 111 L610.57 111 L614.41 111 L618.41 111 L622.58 111 L626.92 111 L631.44 111 L636.15 111 L641.05 111 L646.16 111 L651.48 111 L657.03 111 L662.8 111 L668.81 111 L675.08 111 L681.6 111" stroke="#ff1a12" stroke-width="2" fill="none" stroke-linejoin="round"/>
<path d="M519.52 131.1 L519.58 131.1 L519.63 131.1 L519.68 131.1 L519.74 131.1 L519.8 131.1 L519.86 131.1 L519.93 131.1 L520 131.1 L520.07 131.1 L520.14 131.1 L520.22 131.1 L520.3 131.1 L520.38 131.1 L520.47 131.1 L520.56 131.1 L520.65 131.1 L520.75 131.1 L520.85 131.1 L520.96 131.1 L521.07 131.1 L521.18 131.1 L521.3 131.1 L521.43 131.1 L521.56 131.1 L521.69 131.1 L521.84 131.1 L521.98 131.1 L522.14 131.1 L522.3 131.1 L522.46 131.1 L522.64 131.1 L522.82 131.1 L523 131.1 L523.2 131.1 L523.4 131.1 L523.62 131.1 L523.84 131.1 L524.07 131.1 L524.31 131.1 L524.56 131.1 L524.82 131.1 L525.09 131.1 L525.37 131.1 L525.67 131.1 L525.97 131.1 L526.29 131.1 L526.62 131.1 L526.97 131.1 L527.33 131.1 L527.71 131.1 L528.1 131.1 L528.51 131.1 L528.93 131.1 L529.37 131.1 L529.83 131.1 L530.31 131.1 L530.81 131.1 L531.33 131.1 L531.88 131.1 L532.44 131.1 L533.03 131.1 L533.64 131.1 L534.28 131.1 L534.95 131.1 L535.64 131.1 L536.36 131.1 L537.11 131.1 L537.9 131.1 L538.71 131.1 L539.56 131.1 L540.45 131.1 L541.37 131.1 L542.33 131.1 L543.33 131.1 L544.37 131.1 L545.45 131.1 L546.58 131.1 L547.76 131.1 L548.99 131.1 L550.26 131.1 L551.6 131.1 L552.98 131.1 L554.42 131.1 L555.93 131.1 L557.49 131.1 L559.12 131.1 L560.82 131.1 L562.59 131.1 L564.44 131.1 L566.36 131.1 L568.36 131.1 L570.44 131.1 L572.61 131.1 L574.87 131.1 L577.22 131.1 L579.68 131.1 L582.23 131.1 L584.89 131.1 L587.66 131.1 L590.55 131.1 L593.56 131.1 L596.69 131.1 L599.95 131.1 L603.35 131.1 L606.89 131.1 L610.57 131.1 L614.41 131.1 L618.41 131.1 L622.58 131.1 L626.92 131.1 L631.44 131.1 L636.15 131.1 L641.05 131.1 L646.16 131.1 L651.48 131.1 L657.03 131.1 L662.8 131.1 L668.81 131.1 L675.08 131.1 L681.6 131.1" stroke="#ff1a12" stroke-width="2" fill="none" stroke-linejoin="round"/>
<path d="M520.47 24.36h1.25v1.25h-1.25zM525.91 22.87h1.25v1.25h-1.25zM528.63 22.56h1.25v1.25h-1.25zM531.35 22.4h1.25v1.25h-1.25zM534.07 22.64h1.25v1.25h-1.25zM536.8 22.31h1.25v1.25h-1.25zM542.24 22.38h1.25v1.25h-1.25zM544.96 22.2h1.25v1.25h-1.25zM647.01 24.75h1.25v1.25h-1.25zM652.45 24.97h1.25v1.25h-1.25zM655.17 24.55h1.25v1.25h-1.25zM657.9 24.74h1.25v1.25h-1.25zM660.62 24.98h1.25v1.25h-1.25zM663.34 24.67h1.25v1.25h-1.25zM666.06 24.88h1.25v1.25h-1.25zM668.78 24.8h1.25v1.25h-1.25zM671.5 24.67h1.25v1.25h-1.25zM674.23 24.58h1.25v1.25h-1.25zM679.67 24.61h1.25v1.25h-1.25zM520.95 31.81h1.25v1.25h-1.25zM523.67 31.18h1.25v1.25h-1.25zM526.4 30.43h1.25v1.25h-1.25zM529.12 30.52h1.25v1.25h-1.25zM531.84 30.25h1.25v1.25h-1.25zM534.56 29.72h1.25v1.25h-1.25zM537.28 29.8h1.25v1.25h-1.25zM540 29.83h1.25v1.25h-1.25zM545.45 29.81h1.25v1.25h-1.25zM647.85 32.49h1.25v1.25h-1.25zM650.57 32.75h1.25v1.25h-1.25zM653.3 32.46h1.25v1.25h-1.25zM656.02 32.52h1.25v1.25h-1.25zM658.74 32.72h1.25v1.25h-1.25zM661.46 32.44h1.25v1.25h-1.25zM664.18 32.54h1.25v1.25h-1.25zM666.9 32.6h1.25v1.25h-1.25zM669.63 32.33h1.25v1.25h-1.25zM672.35 32.52h1.25v1.25h-1.25zM675.07 32.64h1.25v1.25h-1.25zM680.51 32.43h1.25v1.25h-1.25zM520.89 44.24h1.25v1.25h-1.25zM523.61 43.45h1.25v1.25h-1.25zM526.33 43.06h1.25v1.25h-1.25zM529.06 43.19h1.25v1.25h-1.25zM531.78 43.06h1.25v1.25h-1.25zM534.5 43.25h1.25v1.25h-1.25zM537.22 43.35h1.25v1.25h-1.25zM519.9 52.68h1.25v1.25h-1.25zM522.62 51.57h1.25v1.25h-1.25zM525.35 51.59h1.25v1.25h-1.25zM528.07 51.31h1.25v1.25h-1.25zM530.79 51.19h1.25v1.25h-1.25zM533.51 51.03h1.25v1.25h-1.25zM536.23 51.28h1.25v1.25h-1.25zM538.95 50.97h1.25v1.25h-1.25zM541.68 51.2h1.25v1.25h-1.25zM544.4 51.26h1.25v1.25h-1.25zM547.12 50.9h1.25v1.25h-1.25zM549.84 50.74h1.25v1.25h-1.25zM552.56 50.95h1.25v1.25h-1.25zM558.01 50.88h1.25v1.25h-1.25zM560.73 50.88h1.25v1.25h-1.25zM563.45 51.17h1.25v1.25h-1.25zM566.17 51.11h1.25v1.25h-1.25zM568.89 50.93h1.25v1.25h-1.25zM571.61 51.02h1.25v1.25h-1.25zM519.87 60.17h1.25v1.25h-1.25zM522.59 59.03h1.25v1.25h-1.25zM525.31 58.67h1.25v1.25h-1.25zM528.04 58.65h1.25v1.25h-1.25zM530.76 58.82h1.25v1.25h-1.25zM533.48 58.82h1.25v1.25h-1.25zM538.92 58.16h1.25v1.25h-1.25zM541.64 58.58h1.25v1.25h-1.25zM544.37 58.59h1.25v1.25h-1.25zM547.09 58.51h1.25v1.25h-1.25zM549.81 58.42h1.25v1.25h-1.25zM552.53 58.24h1.25v1.25h-1.25zM555.25 58.46h1.25v1.25h-1.25zM557.97 58.1h1.25v1.25h-1.25zM563.42 58.26h1.25v1.25h-1.25zM566.14 58.38h1.25v1.25h-1.25zM568.86 58.37h1.25v1.25h-1.25zM571.58 58.29h1.25v1.25h-1.25zM574.3 58.12h1.25v1.25h-1.25zM582.47 58.15h1.25v1.25h-1.25zM585.19 58.25h1.25v1.25h-1.25zM587.91 58.19h1.25v1.25h-1.25zM590.63 58.17h1.25v1.25h-1.25zM593.36 58.29h1.25v1.25h-1.25zM596.08 58h1.25v1.25h-1.25zM598.8 58.08h1.25v1.25h-1.25zM601.52 58.34h1.25v1.25h-1.25zM604.24 58.18h1.25v1.25h-1.25zM606.96 58.16h1.25v1.25h-1.25zM609.69 57.91h1.25v1.25h-1.25zM612.41 58.06h1.25v1.25h-1.25zM615.13 58.37h1.25v1.25h-1.25zM617.85 58.05h1.25v1.25h-1.25zM620.57 57.98h1.25v1.25h-1.25zM623.29 57.88h1.25v1.25h-1.25zM626.02 58.07h1.25v1.25h-1.25zM628.74 58.03h1.25v1.25h-1.25zM631.46 58.1h1.25v1.25h-1.25zM634.18 58.23h1.25v1.25h-1.25zM636.9 58.04h1.25v1.25h-1.25zM639.62 58.06h1.25v1.25h-1.25zM645.07 58.15h1.25v1.25h-1.25zM647.79 57.91h1.25v1.25h-1.25zM653.23 58.11h1.25v1.25h-1.25zM655.95 57.93h1.25v1.25h-1.25zM658.68 58.24h1.25v1.25h-1.25zM661.4 57.83h1.25v1.25h-1.25zM666.84 58.08h1.25v1.25h-1.25zM669.56 58.17h1.25v1.25h-1.25zM672.28 58.01h1.25v1.25h-1.25zM677.73 57.66h1.25v1.25h-1.25zM680.45 58.01h1.25v1.25h-1.25zM519.75 60.67h1.25v1.25h-1.25zM522.47 59.59h1.25v1.25h-1.25zM525.19 59.18h1.25v1.25h-1.25zM527.91 59.24h1.25v1.25h-1.25zM530.63 59.07h1.25v1.25h-1.25zM533.36 59h1.25v1.25h-1.25zM536.08 59h1.25v1.25h-1.25zM538.8 58.98h1.25v1.25h-1.25zM541.52 58.95h1.25v1.25h-1.25zM544.24 59.04h1.25v1.25h-1.25zM546.96 59.1h1.25v1.25h-1.25zM549.69 58.78h1.25v1.25h-1.25z" fill="#ff1a12"/>
</g>
<path d="M518.3 17.4v4.9M518.3 135.8v-4.9M586.34 17.4v4.9M586.34 135.8v-4.9M654.38 17.4v4.9M654.38 135.8v-4.9M518.3 135.35h2.8M681.6 135.35h-2.8M518.3 133.2h4.9M681.6 133.2h-4.9M518.3 119.08h2.8M681.6 119.08h-2.8M518.3 110.82h2.8M681.6 110.82h-2.8M518.3 104.96h2.8M681.6 104.96h-2.8M518.3 100.42h2.8M681.6 100.42h-2.8M518.3 96.7h2.8M681.6 96.7h-2.8M518.3 93.56h2.8M681.6 93.56h-2.8M518.3 90.85h2.8M681.6 90.85h-2.8M518.3 88.45h2.8M681.6 88.45h-2.8M518.3 86.3h4.9M681.6 86.3h-4.9M518.3 72.18h2.8M681.6 72.18h-2.8M518.3 63.92h2.8M681.6 63.92h-2.8M518.3 58.06h2.8M681.6 58.06h-2.8M518.3 53.52h2.8M681.6 53.52h-2.8M518.3 49.8h2.8M681.6 49.8h-2.8M518.3 46.66h2.8M681.6 46.66h-2.8M518.3 43.95h2.8M681.6 43.95h-2.8M518.3 41.55h2.8M681.6 41.55h-2.8M518.3 39.4h4.9M681.6 39.4h-4.9M518.3 25.28h2.8M681.6 25.28h-2.8" stroke="#000" stroke-width="1" fill="none"/>
<rect x="518.3" y="17.4" width="163.3" height="118.4" fill="none" stroke="#000" stroke-width="1.1"/>
<text x="518.3" y="151.4" font-size="14.4" text-anchor="middle" textLength="8.2" lengthAdjust="spacingAndGlyphs" fill="#000">0</text>
<text x="586.34" y="151.4" font-size="14.4" text-anchor="middle" textLength="17" lengthAdjust="spacingAndGlyphs" letter-spacing="0.6" fill="#000">10</text>
<text x="654.38" y="151.4" font-size="14.4" text-anchor="middle" textLength="17" lengthAdjust="spacingAndGlyphs" letter-spacing="0.6" fill="#000">20</text>
<text x="505.7" y="138.5" font-size="14.4" text-anchor="end" textLength="16.2" lengthAdjust="spacingAndGlyphs" letter-spacing="0.6" fill="#000">10</text>
<text x="507.4" y="133.7" font-size="10.4" textLength="5.6" lengthAdjust="spacingAndGlyphs" fill="#000">5</text>
<text x="505.7" y="91.6" font-size="14.4" text-anchor="end" textLength="16.2" lengthAdjust="spacingAndGlyphs" letter-spacing="0.6" fill="#000">10</text>
<text x="507.4" y="86.8" font-size="10.4" textLength="5.6" lengthAdjust="spacingAndGlyphs" fill="#000">6</text>
<text x="505.7" y="44.7" font-size="14.4" text-anchor="end" textLength="16.2" lengthAdjust="spacingAndGlyphs" letter-spacing="0.6" fill="#000">10</text>
<text x="507.4" y="39.9" font-size="10.4" textLength="5.6" lengthAdjust="spacingAndGlyphs" fill="#000">7</text>
<text x="495.3" y="10.7" font-size="12.5" fill="#000">c)</text>
<text x="638.7" y="102.7" font-size="11.9" textLength="23.8" lengthAdjust="spacingAndGlyphs" letter-spacing="0.6" fill="#000">12 K</text>
<text transform="translate(23.2 136.9) rotate(-90)" font-size="15" font-style="italic" textLength="9.9" lengthAdjust="spacingAndGlyphs">R</text>
<text transform="translate(25.9 126) rotate(-90)" font-size="10" font-style="italic" textLength="29" lengthAdjust="spacingAndGlyphs" letter-spacing="0.6">eNVM</text>
<text transform="translate(23.2 94) rotate(-90)" font-size="14.4" textLength="76.2" lengthAdjust="spacingAndGlyphs" letter-spacing="0.6">@0.1V (Ω)</text>
<text transform="translate(249.8 136.9) rotate(-90)" font-size="15" font-style="italic" textLength="9.9" lengthAdjust="spacingAndGlyphs">R</text>
<text transform="translate(252.5 126) rotate(-90)" font-size="10" font-style="italic" textLength="29" lengthAdjust="spacingAndGlyphs" letter-spacing="0.6">eNVM</text>
<text transform="translate(249.8 94) rotate(-90)" font-size="14.4" textLength="76.2" lengthAdjust="spacingAndGlyphs" letter-spacing="0.6">@0.1V (Ω)</text>
<text transform="translate(481 136.9) rotate(-90)" font-size="15" font-style="italic" textLength="9.9" lengthAdjust="spacingAndGlyphs">R</text>
<text transform="translate(483.7 126) rotate(-90)" font-size="10" font-style="italic" textLength="29" lengthAdjust="spacingAndGlyphs" letter-spacing="0.6">eNVM</text>
<text transform="translate(481 94) rotate(-90)" font-size="14.4" textLength="76.2" lengthAdjust="spacingAndGlyphs" letter-spacing="0.6">@0.1V (Ω)</text>
<text x="142.2" y="169.8" font-size="14.4" text-anchor="middle" textLength="57.6" lengthAdjust="spacingAndGlyphs" letter-spacing="0.6" fill="#000">Time (s)</text>
<text x="368.6" y="169.8" font-size="14.4" text-anchor="middle" textLength="57.6" lengthAdjust="spacingAndGlyphs" letter-spacing="0.6" fill="#000">Time (s)</text>
<text x="600" y="169.8" font-size="14.4" text-anchor="middle" textLength="57.6" lengthAdjust="spacingAndGlyphs" letter-spacing="0.6" fill="#000">Time (s)</text>
<clipPath id="clipd"><rect x="61.4" y="194.6" width="164" height="119.3"/></clipPath>
<g clip-path="url(#clipd)">
<circle cx="121" cy="216.9" r="3.05" fill="#000" stroke="#8c8c8c" stroke-width="1.05"/>
<circle cx="106.3" cy="232" r="3.05" fill="#000" stroke="#8c8c8c" stroke-width="1.05"/>
<circle cx="117.6" cy="235.9" r="3.05" fill="#000" stroke="#8c8c8c" stroke-width="1.05"/>
<circle cx="120.1" cy="238.7" r="3.05" fill="#000" stroke="#8c8c8c" stroke-width="1.05"/>
<circle cx="137.7" cy="229.4" r="3.05" fill="#000" stroke="#8c8c8c" stroke-width="1.05"/>
<circle cx="104.5" cy="253.6" r="3.05" fill="#000" stroke="#8c8c8c" stroke-width="1.05"/>
<circle cx="136.3" cy="251.5" r="3.05" fill="#000" stroke="#8c8c8c" stroke-width="1.05"/>
<circle cx="151.8" cy="220.3" r="3.05" fill="#000" stroke="#8c8c8c" stroke-width="1.05"/>
<circle cx="166.3" cy="222.1" r="3.05" fill="#000" stroke="#8c8c8c" stroke-width="1.05"/>
<circle cx="157.6" cy="229.4" r="3.05" fill="#000" stroke="#8c8c8c" stroke-width="1.05"/>
<circle cx="150.5" cy="242.1" r="3.05" fill="#000" stroke="#8c8c8c" stroke-width="1.05"/>
<circle cx="164.9" cy="243.2" r="3.05" fill="#000" stroke="#8c8c8c" stroke-width="1.05"/>
<circle cx="156.3" cy="251.5" r="3.05" fill="#000" stroke="#8c8c8c" stroke-width="1.05"/>
<circle cx="151.3" cy="265.6" r="3.05" fill="#000" stroke="#8c8c8c" stroke-width="1.05"/>
<circle cx="116.3" cy="257.8" r="3.05" fill="#000" stroke="#8c8c8c" stroke-width="1.05"/>
<circle cx="66" cy="276.3" r="3.05" fill="#000" stroke="#8c8c8c" stroke-width="1.05"/>
<circle cx="68.3" cy="278.7" r="3.05" fill="#000" stroke="#8c8c8c" stroke-width="1.05"/>
<circle cx="78.4" cy="276.3" r="3.05" fill="#000" stroke="#8c8c8c" stroke-width="1.05"/>
<circle cx="70.1" cy="284.4" r="3.05" fill="#000" stroke="#8c8c8c" stroke-width="1.05"/>
<circle cx="80.1" cy="283.4" r="3.05" fill="#000" stroke="#8c8c8c" stroke-width="1.05"/>
<circle cx="98.9" cy="282.1" r="3.05" fill="#000" stroke="#8c8c8c" stroke-width="1.05"/>
<circle cx="113.4" cy="283.7" r="3.05" fill="#000" stroke="#8c8c8c" stroke-width="1.05"/>
<circle cx="110.7" cy="286.4" r="3.05" fill="#000" stroke="#8c8c8c" stroke-width="1.05"/>
<circle cx="124.8" cy="288.1" r="3.05" fill="#000" stroke="#8c8c8c" stroke-width="1.05"/>
<circle cx="73.4" cy="290.5" r="3.05" fill="#000" stroke="#8c8c8c" stroke-width="1.05"/>
<circle cx="78.8" cy="288.8" r="3.05" fill="#000" stroke="#8c8c8c" stroke-width="1.05"/>
<circle cx="85.5" cy="291.5" r="3.05" fill="#000" stroke="#8c8c8c" stroke-width="1.05"/>
<circle cx="92.9" cy="290.8" r="3.05" fill="#000" stroke="#8c8c8c" stroke-width="1.05"/>
<circle cx="104.9" cy="291.5" r="3.05" fill="#000" stroke="#8c8c8c" stroke-width="1.05"/>
<circle cx="96.9" cy="295.8" r="3.05" fill="#000" stroke="#8c8c8c" stroke-width="1.05"/>
<circle cx="116.6" cy="295.8" r="3.05" fill="#000" stroke="#8c8c8c" stroke-width="1.05"/>
<circle cx="84.8" cy="298.6" r="3.05" fill="#000" stroke="#8c8c8c" stroke-width="1.05"/>
<circle cx="79.4" cy="300.2" r="3.05" fill="#000" stroke="#8c8c8c" stroke-width="1.05"/>
<circle cx="76.1" cy="303.1" r="3.05" fill="#000" stroke="#8c8c8c" stroke-width="1.05"/>
<circle cx="95.5" cy="301.5" r="3.05" fill="#000" stroke="#8c8c8c" stroke-width="1.05"/>
<circle cx="109.9" cy="303.1" r="3.05" fill="#000" stroke="#8c8c8c" stroke-width="1.05"/>
<circle cx="100.2" cy="305.5" r="3.05" fill="#000" stroke="#8c8c8c" stroke-width="1.05"/>
<circle cx="71" cy="307.8" r="3.05" fill="#000" stroke="#8c8c8c" stroke-width="1.05"/>
<circle cx="82.1" cy="310.6" r="3.05" fill="#000" stroke="#8c8c8c" stroke-width="1.05"/>
<circle cx="79.8" cy="312.3" r="3.05" fill="#000" stroke="#8c8c8c" stroke-width="1.05"/>
<circle cx="101.6" cy="310.9" r="3.05" fill="#000" stroke="#8c8c8c" stroke-width="1.05"/>
<circle cx="111.6" cy="309.8" r="3.05" fill="#000" stroke="#8c8c8c" stroke-width="1.05"/>
<path d="M65 194.6V313.9M136.5 194.6V313.9M208 194.6V313.9M61.4 298.3H225.4M61.4 246.45H225.4M61.4 194.6H225.4" stroke="#b0b0b0" stroke-width="1" fill="none" opacity="0.85"/>
<path d="M65 298.3L166.89 238.01" stroke="#000" stroke-width="2"/>
</g>
<path d="M80.9 204.5H111.4" stroke="#000" stroke-width="2"/>
<text x="127.4" y="209.6" font-size="14.4" textLength="78.6" lengthAdjust="spacingAndGlyphs" letter-spacing="0.6" fill="#000">k = 0.0204</text>
<path d="M65 313.9v4M136.5 313.9v4M208 313.9v4M61.4 298.3h-4M61.4 246.45h-4M61.4 194.6h-4" stroke="#000" stroke-width="1" fill="none"/>
<rect x="61.4" y="194.6" width="164" height="119.3" fill="none" stroke="#000" stroke-width="1.1"/>
<text x="65" y="333.1" font-size="14.4" text-anchor="middle" textLength="8.6" lengthAdjust="spacingAndGlyphs" fill="#000">0</text>
<text x="136.5" y="333.1" font-size="14.4" text-anchor="middle" textLength="8.6" lengthAdjust="spacingAndGlyphs" fill="#000">2</text>
<text x="208" y="333.1" font-size="14.4" text-anchor="middle" textLength="8.6" lengthAdjust="spacingAndGlyphs" fill="#000">4</text>
<text x="52.8" y="303.6" font-size="14.4" text-anchor="end" textLength="31" lengthAdjust="spacingAndGlyphs" letter-spacing="0.6" fill="#000">0.00</text>
<text x="52.8" y="251.75" font-size="14.4" text-anchor="end" textLength="31" lengthAdjust="spacingAndGlyphs" letter-spacing="0.6" fill="#000">0.05</text>
<text x="52.8" y="199.9" font-size="14.4" text-anchor="end" textLength="31" lengthAdjust="spacingAndGlyphs" letter-spacing="0.6" fill="#000">0.10</text>
<text x="52.5" y="177.6" font-size="12.5" fill="#000">d)</text>
<text x="169.6" y="293.8" font-size="11.9" textLength="30.5" lengthAdjust="spacingAndGlyphs" letter-spacing="0.6" fill="#000">300 K</text>
<text x="143.4" y="352.1" font-size="14.4" text-anchor="middle" textLength="57.5" lengthAdjust="spacingAndGlyphs" letter-spacing="0.6">Δlog(<tspan font-style="italic">R</tspan><tspan font-size="10" font-style="italic" dy="3">ij</tspan><tspan dy="-3">)</tspan></text>
<text transform="translate(12.1 266.85) rotate(-90)" font-size="14.4" textLength="8.9" lengthAdjust="spacingAndGlyphs">Δ</text>
<text transform="translate(12.1 258.65) rotate(-90)" font-size="14.4" font-style="italic" textLength="7.3" lengthAdjust="spacingAndGlyphs">ν</text>
<text transform="translate(14.7 250.65) rotate(-90)" font-size="10" font-style="italic" textLength="6.6" lengthAdjust="spacingAndGlyphs">ij</text>
<clipPath id="clipe"><rect x="288.8" y="193.3" width="163.8" height="119"/></clipPath>
<g clip-path="url(#clipe)">
<circle cx="315.1" cy="263.4" r="3.05" fill="#1010ff" stroke="#000" stroke-width="1.05"/>
<circle cx="315.9" cy="267.4" r="3.05" fill="#1010ff" stroke="#000" stroke-width="1.05"/>
<circle cx="322.8" cy="266.7" r="3.05" fill="#1010ff" stroke="#000" stroke-width="1.05"/>
<circle cx="341.3" cy="266.7" r="3.05" fill="#1010ff" stroke="#000" stroke-width="1.05"/>
<circle cx="342.3" cy="270.8" r="3.05" fill="#1010ff" stroke="#000" stroke-width="1.05"/>
<circle cx="349" cy="269.4" r="3.05" fill="#1010ff" stroke="#000" stroke-width="1.05"/>
<circle cx="329.8" cy="273" r="3.05" fill="#1010ff" stroke="#000" stroke-width="1.05"/>
<circle cx="330.9" cy="276.8" r="3.05" fill="#1010ff" stroke="#000" stroke-width="1.05"/>
<circle cx="337.6" cy="276.1" r="3.05" fill="#1010ff" stroke="#000" stroke-width="1.05"/>
<circle cx="350.3" cy="274.8" r="3.05" fill="#1010ff" stroke="#000" stroke-width="1.05"/>
<circle cx="352.3" cy="279.5" r="3.05" fill="#1010ff" stroke="#000" stroke-width="1.05"/>
<circle cx="324.9" cy="280.8" r="3.05" fill="#1010ff" stroke="#000" stroke-width="1.05"/>
<circle cx="358.7" cy="257.1" r="3.05" fill="#1010ff" stroke="#000" stroke-width="1.05"/>
<circle cx="359.7" cy="261.6" r="3.05" fill="#1010ff" stroke="#000" stroke-width="1.05"/>
<circle cx="366.5" cy="260.6" r="3.05" fill="#1010ff" stroke="#000" stroke-width="1.05"/>
<circle cx="361.3" cy="288" r="3.05" fill="#1010ff" stroke="#000" stroke-width="1.05"/>
<circle cx="302.1" cy="274.1" r="3.05" fill="#1010ff" stroke="#000" stroke-width="1.05"/>
<circle cx="303.4" cy="278.8" r="3.05" fill="#1010ff" stroke="#000" stroke-width="1.05"/>
<circle cx="304.7" cy="282.1" r="3.05" fill="#1010ff" stroke="#000" stroke-width="1.05"/>
<circle cx="310.1" cy="277.5" r="3.05" fill="#1010ff" stroke="#000" stroke-width="1.05"/>
<circle cx="310.8" cy="280.8" r="3.05" fill="#1010ff" stroke="#000" stroke-width="1.05"/>
<circle cx="312.1" cy="283.5" r="3.05" fill="#1010ff" stroke="#000" stroke-width="1.05"/>
<circle cx="305.4" cy="284.2" r="3.05" fill="#1010ff" stroke="#000" stroke-width="1.05"/>
<circle cx="308.1" cy="286.2" r="3.05" fill="#1010ff" stroke="#000" stroke-width="1.05"/>
<circle cx="313.5" cy="287.5" r="3.05" fill="#1010ff" stroke="#000" stroke-width="1.05"/>
<circle cx="306.5" cy="290.2" r="3.05" fill="#1010ff" stroke="#000" stroke-width="1.05"/>
<circle cx="322.2" cy="292.2" r="3.05" fill="#1010ff" stroke="#000" stroke-width="1.05"/>
<circle cx="323.5" cy="294.9" r="3.05" fill="#1010ff" stroke="#000" stroke-width="1.05"/>
<circle cx="332.2" cy="284.2" r="3.05" fill="#1010ff" stroke="#000" stroke-width="1.05"/>
<circle cx="334.6" cy="288.2" r="3.05" fill="#1010ff" stroke="#000" stroke-width="1.05"/>
<circle cx="339.6" cy="290.2" r="3.05" fill="#1010ff" stroke="#000" stroke-width="1.05"/>
<circle cx="296" cy="298.9" r="3.05" fill="#1010ff" stroke="#000" stroke-width="1.05"/>
<circle cx="297.3" cy="301.7" r="3.05" fill="#1010ff" stroke="#000" stroke-width="1.05"/>
<circle cx="303.4" cy="299.2" r="3.05" fill="#1010ff" stroke="#000" stroke-width="1.05"/>
<circle cx="302.6" cy="296.2" r="3.05" fill="#1010ff" stroke="#000" stroke-width="1.05"/>
<circle cx="322.6" cy="299.2" r="3.05" fill="#1010ff" stroke="#000" stroke-width="1.05"/>
<circle cx="310.4" cy="306.6" r="3.05" fill="#1010ff" stroke="#000" stroke-width="1.05"/>
<circle cx="424.3" cy="249" r="3.05" fill="#1010ff" stroke="#000" stroke-width="1.05"/>
<circle cx="425.5" cy="253" r="3.05" fill="#1010ff" stroke="#000" stroke-width="1.05"/>
<circle cx="431.7" cy="252.1" r="3.05" fill="#1010ff" stroke="#000" stroke-width="1.05"/>
<circle cx="415.5" cy="266.1" r="3.05" fill="#1010ff" stroke="#000" stroke-width="1.05"/>
<circle cx="416.7" cy="268.5" r="3.05" fill="#1010ff" stroke="#000" stroke-width="1.05"/>
<circle cx="417.9" cy="270.9" r="3.05" fill="#1010ff" stroke="#000" stroke-width="1.05"/>
<circle cx="390.1" cy="272.3" r="3.05" fill="#1010ff" stroke="#000" stroke-width="1.05"/>
<circle cx="378.7" cy="278.7" r="3.05" fill="#1010ff" stroke="#000" stroke-width="1.05"/>
<circle cx="404.9" cy="281.7" r="3.05" fill="#1010ff" stroke="#000" stroke-width="1.05"/>
<path d="M295.7 193.3V312.3M365.6 193.3V312.3M435.5 193.3V312.3M288.8 297H452.6M288.8 245.15H452.6M288.8 193.3H452.6" stroke="#b0b0b0" stroke-width="1" fill="none" opacity="0.85"/>
<path d="M295.7 297L425.71 254.57" stroke="#1010f0" stroke-width="2"/>
</g>
<path d="M309.9 203.1H340.5" stroke="#1010f0" stroke-width="2"/>
<text x="356.3" y="208.3" font-size="14.4" textLength="79.2" lengthAdjust="spacingAndGlyphs" letter-spacing="0.6" fill="#000">k = 0.0110</text>
<path d="M295.7 312.3v4M365.6 312.3v4M435.5 312.3v4M288.8 297h-4M288.8 245.15h-4M288.8 193.3h-4" stroke="#000" stroke-width="1" fill="none"/>
<rect x="288.8" y="193.3" width="163.8" height="119" fill="none" stroke="#000" stroke-width="1.1"/>
<text x="295.7" y="333.1" font-size="14.4" text-anchor="middle" textLength="8.6" lengthAdjust="spacingAndGlyphs" fill="#000">0</text>
<text x="365.6" y="333.1" font-size="14.4" text-anchor="middle" textLength="8.6" lengthAdjust="spacingAndGlyphs" fill="#000">2</text>
<text x="435.5" y="333.1" font-size="14.4" text-anchor="middle" textLength="8.6" lengthAdjust="spacingAndGlyphs" fill="#000">4</text>
<text x="280.2" y="302.3" font-size="14.4" text-anchor="end" textLength="31" lengthAdjust="spacingAndGlyphs" letter-spacing="0.6" fill="#000">0.00</text>
<text x="280.2" y="250.45" font-size="14.4" text-anchor="end" textLength="31" lengthAdjust="spacingAndGlyphs" letter-spacing="0.6" fill="#000">0.05</text>
<text x="280.2" y="198.6" font-size="14.4" text-anchor="end" textLength="31" lengthAdjust="spacingAndGlyphs" letter-spacing="0.6" fill="#000">0.10</text>
<text x="270.3" y="178.3" font-size="12.5" fill="#000">e)</text>
<text x="410.5" y="296" font-size="11.9" textLength="23.6" lengthAdjust="spacingAndGlyphs" letter-spacing="0.6" fill="#000">77 K</text>
<text x="370.7" y="352.1" font-size="14.4" text-anchor="middle" textLength="57.5" lengthAdjust="spacingAndGlyphs" letter-spacing="0.6">Δlog(<tspan font-style="italic">R</tspan><tspan font-size="10" font-style="italic" dy="3">ij</tspan><tspan dy="-3">)</tspan></text>
<text transform="translate(239.5 265.4) rotate(-90)" font-size="14.4" textLength="8.9" lengthAdjust="spacingAndGlyphs">Δ</text>
<text transform="translate(239.5 257.2) rotate(-90)" font-size="14.4" font-style="italic" textLength="7.3" lengthAdjust="spacingAndGlyphs">ν</text>
<text transform="translate(242.1 249.2) rotate(-90)" font-size="10" font-style="italic" textLength="6.6" lengthAdjust="spacingAndGlyphs">ij</text>
<clipPath id="clipf"><rect x="519.5" y="194.3" width="164.1" height="118.9"/></clipPath>
<g clip-path="url(#clipf)">
<circle cx="570.6" cy="248.3" r="3.05" fill="#ff1a10" stroke="#000" stroke-width="1.05"/>
<circle cx="558.8" cy="253" r="3.05" fill="#ff1a10" stroke="#000" stroke-width="1.05"/>
<circle cx="561.1" cy="251.9" r="3.05" fill="#ff1a10" stroke="#000" stroke-width="1.05"/>
<circle cx="560.7" cy="255.4" r="3.05" fill="#ff1a10" stroke="#000" stroke-width="1.05"/>
<circle cx="548.3" cy="264.2" r="3.05" fill="#ff1a10" stroke="#000" stroke-width="1.05"/>
<circle cx="564.3" cy="267.5" r="3.05" fill="#ff1a10" stroke="#000" stroke-width="1.05"/>
<circle cx="569.4" cy="264.9" r="3.05" fill="#ff1a10" stroke="#000" stroke-width="1.05"/>
<circle cx="552.7" cy="272.2" r="3.05" fill="#ff1a10" stroke="#000" stroke-width="1.05"/>
<circle cx="554.9" cy="271" r="3.05" fill="#ff1a10" stroke="#000" stroke-width="1.05"/>
<circle cx="554.9" cy="275.1" r="3.05" fill="#ff1a10" stroke="#000" stroke-width="1.05"/>
<circle cx="533.4" cy="278.3" r="3.05" fill="#ff1a10" stroke="#000" stroke-width="1.05"/>
<circle cx="528.4" cy="281.2" r="3.05" fill="#ff1a10" stroke="#000" stroke-width="1.05"/>
<circle cx="549.1" cy="282.3" r="3.05" fill="#ff1a10" stroke="#000" stroke-width="1.05"/>
<circle cx="541.5" cy="283.5" r="3.05" fill="#ff1a10" stroke="#000" stroke-width="1.05"/>
<circle cx="537.4" cy="286.7" r="3.05" fill="#ff1a10" stroke="#000" stroke-width="1.05"/>
<circle cx="562.1" cy="284.1" r="3.05" fill="#ff1a10" stroke="#000" stroke-width="1.05"/>
<circle cx="538.9" cy="289.3" r="3.05" fill="#ff1a10" stroke="#000" stroke-width="1.05"/>
<circle cx="536.3" cy="291.8" r="3.05" fill="#ff1a10" stroke="#000" stroke-width="1.05"/>
<circle cx="538.9" cy="294.3" r="3.05" fill="#ff1a10" stroke="#000" stroke-width="1.05"/>
<circle cx="526.5" cy="294.3" r="3.05" fill="#ff1a10" stroke="#000" stroke-width="1.05"/>
<circle cx="529" cy="296.6" r="3.05" fill="#ff1a10" stroke="#000" stroke-width="1.05"/>
<circle cx="528" cy="300.1" r="3.05" fill="#ff1a10" stroke="#000" stroke-width="1.05"/>
<circle cx="546.9" cy="299" r="3.05" fill="#ff1a10" stroke="#000" stroke-width="1.05"/>
<circle cx="558.1" cy="298.3" r="3.05" fill="#ff1a10" stroke="#000" stroke-width="1.05"/>
<circle cx="534.5" cy="307.3" r="3.05" fill="#ff1a10" stroke="#000" stroke-width="1.05"/>
<circle cx="536.7" cy="310" r="3.05" fill="#ff1a10" stroke="#000" stroke-width="1.05"/>
<circle cx="644.1" cy="237.1" r="3.05" fill="#ff1a10" stroke="#000" stroke-width="1.05"/>
<circle cx="675.6" cy="237.1" r="3.05" fill="#ff1a10" stroke="#000" stroke-width="1.05"/>
<circle cx="637.4" cy="256.3" r="3.05" fill="#ff1a10" stroke="#000" stroke-width="1.05"/>
<circle cx="668.9" cy="256.5" r="3.05" fill="#ff1a10" stroke="#000" stroke-width="1.05"/>
<circle cx="601" cy="269.9" r="3.05" fill="#ff1a10" stroke="#000" stroke-width="1.05"/>
<circle cx="622.3" cy="271.2" r="3.05" fill="#ff1a10" stroke="#000" stroke-width="1.05"/>
<circle cx="633.2" cy="270" r="3.05" fill="#ff1a10" stroke="#000" stroke-width="1.05"/>
<circle cx="653.8" cy="271.2" r="3.05" fill="#ff1a10" stroke="#000" stroke-width="1.05"/>
<circle cx="609.4" cy="279.6" r="3.05" fill="#ff1a10" stroke="#000" stroke-width="1.05"/>
<circle cx="609.4" cy="283" r="3.05" fill="#ff1a10" stroke="#000" stroke-width="1.05"/>
<circle cx="611.9" cy="281.8" r="3.05" fill="#ff1a10" stroke="#000" stroke-width="1.05"/>
<circle cx="599.8" cy="286.9" r="3.05" fill="#ff1a10" stroke="#000" stroke-width="1.05"/>
<circle cx="631.5" cy="287.1" r="3.05" fill="#ff1a10" stroke="#000" stroke-width="1.05"/>
<circle cx="641.2" cy="279.6" r="3.05" fill="#ff1a10" stroke="#000" stroke-width="1.05"/>
<circle cx="641.2" cy="283" r="3.05" fill="#ff1a10" stroke="#000" stroke-width="1.05"/>
<circle cx="643.6" cy="282.1" r="3.05" fill="#ff1a10" stroke="#000" stroke-width="1.05"/>
<path d="M526.7 194.3V313.2M590.2 194.3V313.2M653.7 194.3V313.2M519.5 298.2H683.6M519.5 246.25H683.6M519.5 194.3H683.6" stroke="#b0b0b0" stroke-width="1" fill="none" opacity="0.85"/>
<path d="M526.7 298.2L675.93 251.81" stroke="#ff1a12" stroke-width="2"/>
</g>
<path d="M542 204.7H572.7" stroke="#ff1a12" stroke-width="2"/>
<text x="588.5" y="209.7" font-size="14.4" textLength="79.2" lengthAdjust="spacingAndGlyphs" letter-spacing="0.6" fill="#000">k = 0.0095</text>
<path d="M526.7 313.2v4M590.2 313.2v4M653.7 313.2v4M519.5 298.2h-4M519.5 246.25h-4M519.5 194.3h-4" stroke="#000" stroke-width="1" fill="none"/>
<rect x="519.5" y="194.3" width="164.1" height="118.9" fill="none" stroke="#000" stroke-width="1.1"/>
<text x="526.7" y="333.1" font-size="14.4" text-anchor="middle" textLength="8.6" lengthAdjust="spacingAndGlyphs" fill="#000">0</text>
<text x="590.2" y="333.1" font-size="14.4" text-anchor="middle" textLength="8.6" lengthAdjust="spacingAndGlyphs" fill="#000">2</text>
<text x="653.7" y="333.1" font-size="14.4" text-anchor="middle" textLength="8.6" lengthAdjust="spacingAndGlyphs" fill="#000">4</text>
<text x="510.9" y="303.5" font-size="14.4" text-anchor="end" textLength="31" lengthAdjust="spacingAndGlyphs" letter-spacing="0.6" fill="#000">0.00</text>
<text x="510.9" y="251.55" font-size="14.4" text-anchor="end" textLength="31" lengthAdjust="spacingAndGlyphs" letter-spacing="0.6" fill="#000">0.05</text>
<text x="510.9" y="199.6" font-size="14.4" text-anchor="end" textLength="31" lengthAdjust="spacingAndGlyphs" letter-spacing="0.6" fill="#000">0.10</text>
<text x="495.3" y="178.1" font-size="12.5" fill="#000">f)</text>
<text x="648" y="297.2" font-size="11.9" textLength="23.5" lengthAdjust="spacingAndGlyphs" letter-spacing="0.6" fill="#000">12 K</text>
<text x="601.55" y="352.1" font-size="14.4" text-anchor="middle" textLength="57.5" lengthAdjust="spacingAndGlyphs" letter-spacing="0.6">Δlog(<tspan font-style="italic">R</tspan><tspan font-size="10" font-style="italic" dy="3">ij</tspan><tspan dy="-3">)</tspan></text>
<text transform="translate(470.2 266.35) rotate(-90)" font-size="14.4" textLength="8.9" lengthAdjust="spacingAndGlyphs">Δ</text>
<text transform="translate(470.2 258.15) rotate(-90)" font-size="14.4" font-style="italic" textLength="7.3" lengthAdjust="spacingAndGlyphs">ν</text>
<text transform="translate(472.8 250.15) rotate(-90)" font-size="10" font-style="italic" textLength="6.6" lengthAdjust="spacingAndGlyphs">ij</text>
</svg>
</body></html>
